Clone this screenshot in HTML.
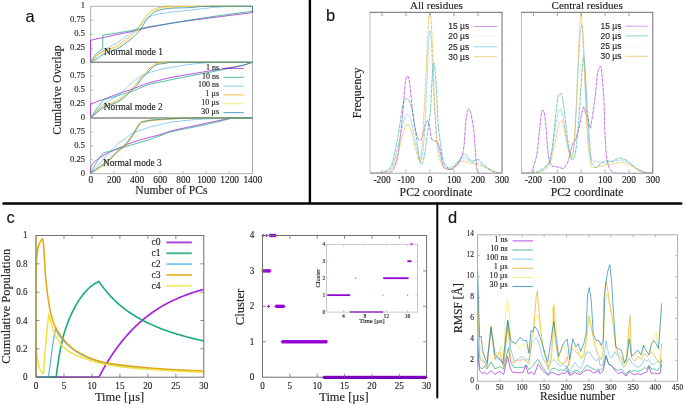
<!DOCTYPE html>
<html><head><meta charset="utf-8"><style>
html,body{margin:0;padding:0;background:#fff;width:685px;height:405px;overflow:hidden;}
svg{display:block;will-change:transform;}
</style></head><body>
<svg width="685" height="405" viewBox="0 0 685 405"><rect x="90.6" y="6.3" width="161.9" height="56" fill="none" stroke="#b0b0b0" stroke-width="1"/>
<line x1="90.6" y1="48.3" x2="92.8" y2="48.3" stroke="#999" stroke-width="0.8" />
<line x1="90.6" y1="34.3" x2="92.8" y2="34.3" stroke="#999" stroke-width="0.8" />
<line x1="90.6" y1="20.3" x2="92.8" y2="20.3" stroke="#999" stroke-width="0.8" />
<rect x="90.6" y="62.3" width="161.9" height="55.7" fill="none" stroke="#b0b0b0" stroke-width="1"/>
<line x1="90.6" y1="104.08" x2="92.8" y2="104.08" stroke="#999" stroke-width="0.8" />
<line x1="90.6" y1="90.15" x2="92.8" y2="90.15" stroke="#999" stroke-width="0.8" />
<line x1="90.6" y1="76.22" x2="92.8" y2="76.22" stroke="#999" stroke-width="0.8" />
<rect x="90.6" y="118" width="161.9" height="55.6" fill="none" stroke="#b0b0b0" stroke-width="1"/>
<line x1="90.6" y1="159.7" x2="92.8" y2="159.7" stroke="#999" stroke-width="0.8" />
<line x1="90.6" y1="145.8" x2="92.8" y2="145.8" stroke="#999" stroke-width="0.8" />
<line x1="90.6" y1="131.9" x2="92.8" y2="131.9" stroke="#999" stroke-width="0.8" />
<line x1="113.73" y1="173.6" x2="113.73" y2="171.1" stroke="#aaa" stroke-width="0.8" />
<line x1="136.86" y1="173.6" x2="136.86" y2="171.1" stroke="#aaa" stroke-width="0.8" />
<line x1="159.99" y1="173.6" x2="159.99" y2="171.1" stroke="#aaa" stroke-width="0.8" />
<line x1="183.11" y1="173.6" x2="183.11" y2="171.1" stroke="#aaa" stroke-width="0.8" />
<line x1="206.24" y1="173.6" x2="206.24" y2="171.1" stroke="#aaa" stroke-width="0.8" />
<line x1="229.37" y1="173.6" x2="229.37" y2="171.1" stroke="#aaa" stroke-width="0.8" />
<line x1="90.6" y1="62.3" x2="252.5" y2="62.3" stroke="#8a8a8a" stroke-width="1.2" />
<line x1="90.6" y1="118" x2="252.5" y2="118" stroke="#8a8a8a" stroke-width="1.2" />
<path d="M90.6,62.3 L90.6,40.29 L117.54,34.41 L132.35,31.39 L147.26,27.69 L172.01,23.1 L191.79,20.3 L212.02,17.67 L232.26,15.09 L252.38,12.63 L252.5,6.3" fill="none" stroke="#9400d3" stroke-width="0.85" stroke-linejoin="round" opacity="0.8"/>
<path d="M90.6,62.3 L95.34,54.46 L102.74,48.58 L102.86,35.08 L117.54,32.9 L131.07,30.66 L147.26,27.02 L172.01,23.1 L191.79,19.74 L212.02,16.66 L232.26,13.86 L252.38,11.34 L252.5,6.3" fill="none" stroke="#009e73" stroke-width="0.85" stroke-linejoin="round" opacity="0.8"/>
<path d="M90.6,62.3 L91.22,61.62 L92.08,60.66 L93.09,59.53 L94.2,58.34 L95.32,57.17 L96.38,56.14 L97.4,55.23 L98.42,54.36 L99.45,53.52 L100.52,52.7 L101.61,51.89 L102.74,51.1 L103.93,50.32 L105.17,49.55 L106.44,48.8 L107.73,48.07 L109.01,47.34 L110.26,46.62 L111.49,45.92 L112.7,45.26 L113.91,44.6 L115.12,43.94 L116.33,43.23 L117.54,42.48 L118.77,41.65 L120,40.76 L121.24,39.84 L122.47,38.91 L123.71,37.99 L124.95,37.1 L126.18,36.25 L127.41,35.43 L128.64,34.61 L129.87,33.79 L131.11,32.94 L132.35,32.06 L133.59,31.15 L134.85,30.25 L136.11,29.31 L137.36,28.34 L138.62,27.3 L139.86,26.18 L141.1,24.9 L142.34,23.45 L143.57,21.94 L144.8,20.47 L146.03,19.14 L147.26,18.06 L148.5,17.25 L149.73,16.64 L150.97,16.16 L152.2,15.78 L153.43,15.44 L154.67,15.09 L155.87,14.76 L157.04,14.48 L158.21,14.24 L159.41,14.03 L160.69,13.81 L162.07,13.58 L163.5,13.34 L164.94,13.11 L166.45,12.88 L168.09,12.64 L169.92,12.39 L172.01,12.12 L174.42,11.83 L177.11,11.52 L179.99,11.2 L182.98,10.88 L185.98,10.55 L188.9,10.22 L191.83,9.89 L194.86,9.54 L197.9,9.19 L200.87,8.85 L203.68,8.54 L206.24,8.26 L208.44,8.02 L210.31,7.81 L212.02,7.63 L213.74,7.46 L215.61,7.3 L217.81,7.14 L220.36,6.97 L223.16,6.81 L226.12,6.65 L229.16,6.51 L232.2,6.39 L235.15,6.3 L238.25,6.25 L241.58,6.24 L244.91,6.25 L248,6.27 L250.61,6.29 L252.5,6.3" fill="none" stroke="#56b4e9" stroke-width="0.85" stroke-linejoin="round" opacity="0.8"/>
<path d="M90.6,62.3 L91.11,61.64 L91.8,60.72 L92.63,59.63 L93.55,58.49 L94.5,57.38 L95.46,56.42 L96.42,55.59 L97.42,54.81 L98.47,54.07 L99.56,53.36 L100.67,52.69 L101.82,52.05 L103.01,51.45 L104.25,50.88 L105.52,50.35 L106.8,49.84 L108.08,49.35 L109.33,48.86 L110.56,48.41 L111.78,48.02 L112.98,47.64 L114.19,47.24 L115.4,46.76 L116.62,46.17 L117.85,45.46 L119.08,44.65 L120.31,43.77 L121.55,42.84 L122.79,41.9 L124.02,40.96 L125.25,40.05 L126.48,39.14 L127.71,38.21 L128.95,37.24 L130.18,36.21 L131.42,35.08 L132.7,33.84 L134.03,32.48 L135.37,31.06 L136.66,29.62 L137.87,28.2 L138.94,26.85 L139.87,25.53 L140.69,24.19 L141.42,22.87 L142.09,21.62 L142.72,20.47 L143.33,19.46 L143.9,18.64 L144.39,17.98 L144.84,17.43 L145.29,16.92 L145.77,16.38 L146.34,15.76 L146.97,15.04 L147.65,14.27 L148.36,13.47 L149.11,12.69 L149.9,11.95 L150.73,11.28 L151.61,10.69 L152.53,10.15 L153.5,9.64 L154.5,9.18 L155.54,8.76 L156.63,8.37 L157.78,8.03 L159,7.73 L160.26,7.47 L161.54,7.24 L162.8,7.04 L164.03,6.86 L165.12,6.71 L166.05,6.58 L166.97,6.49 L168.02,6.41 L169.35,6.35 L171.09,6.3 L173.33,6.27 L175.97,6.26 L178.89,6.26 L181.95,6.28 L185.02,6.29 L187.97,6.3 L190.49,6.3 L192.61,6.3 L194.75,6.3 L197.31,6.3 L200.69,6.3 L205.32,6.3 L212,6.3 L220.58,6.3 L229.99,6.3 L239.16,6.3 L247.02,6.3 L252.5,6.3" fill="none" stroke="#e69f00" stroke-width="0.85" stroke-linejoin="round" opacity="0.8"/>
<path d="M90.6,62.3 L91.25,61.74 L92.15,60.97 L93.21,60.05 L94.36,59.08 L95.52,58.12 L96.61,57.26 L97.64,56.48 L98.67,55.71 L99.7,54.96 L100.76,54.24 L101.84,53.54 L102.97,52.89 L104.16,52.29 L105.4,51.72 L106.67,51.19 L107.96,50.68 L109.24,50.19 L110.49,49.7 L111.72,49.25 L112.93,48.86 L114.14,48.48 L115.35,48.08 L116.56,47.6 L117.78,47.01 L119,46.3 L120.23,45.49 L121.47,44.61 L122.71,43.68 L123.94,42.74 L125.18,41.8 L126.41,40.89 L127.64,39.98 L128.87,39.05 L130.1,38.08 L131.34,37.05 L132.58,35.92 L133.86,34.68 L135.19,33.32 L136.52,31.9 L137.82,30.46 L139.02,29.04 L140.1,27.69 L141.02,26.37 L141.84,25.03 L142.57,23.71 L143.24,22.46 L143.87,21.31 L144.49,20.3 L145.05,19.48 L145.54,18.82 L145.99,18.27 L146.44,17.76 L146.93,17.22 L147.5,16.6 L148.13,15.88 L148.8,15.11 L149.51,14.31 L150.26,13.53 L151.06,12.79 L151.89,12.12 L152.77,11.53 L153.69,10.99 L154.65,10.48 L155.66,10.02 L156.7,9.6 L157.79,9.21 L158.94,8.87 L160.16,8.58 L161.42,8.32 L162.69,8.09 L163.96,7.89 L165.19,7.7 L166.27,7.53 L167.2,7.39 L168.12,7.27 L169.18,7.17 L170.5,7.07 L172.24,6.97 L174.48,6.87 L177.13,6.77 L180.04,6.68 L183.1,6.6 L186.17,6.53 L189.13,6.47 L191.66,6.42 L193.81,6.38 L195.98,6.35 L198.55,6.33 L201.92,6.31 L206.47,6.3 L213.02,6.29 L221.4,6.29 L230.57,6.29 L239.51,6.29 L247.16,6.3 L252.5,6.3" fill="none" stroke="#f0e442" stroke-width="0.85" stroke-linejoin="round" opacity="0.8"/>
<path d="M90.6,62.3 L91.36,61.88 L92.42,61.3 L93.67,60.61 L95.01,59.87 L96.34,59.1 L97.54,58.38 L98.62,57.66 L99.66,56.91 L100.68,56.15 L101.71,55.4 L102.78,54.68 L103.9,54.01 L105.09,53.41 L106.33,52.84 L107.6,52.31 L108.88,51.8 L110.16,51.31 L111.42,50.82 L112.64,50.37 L113.86,49.98 L115.07,49.6 L116.27,49.2 L117.48,48.72 L118.7,48.13 L119.93,47.42 L121.16,46.61 L122.39,45.73 L123.63,44.8 L124.87,43.86 L126.1,42.92 L127.33,42.01 L128.57,41.1 L129.8,40.17 L131.03,39.2 L132.26,38.17 L133.5,37.04 L134.79,35.8 L136.12,34.44 L137.45,33.02 L138.74,31.58 L139.95,30.16 L141.02,28.81 L141.95,27.49 L142.77,26.15 L143.5,24.83 L144.17,23.58 L144.8,22.43 L145.41,21.42 L145.98,20.6 L146.47,19.94 L146.92,19.39 L147.37,18.88 L147.86,18.34 L148.42,17.72 L149.06,17 L149.73,16.23 L150.44,15.44 L151.19,14.65 L151.98,13.91 L152.82,13.24 L153.69,12.65 L154.61,12.11 L155.58,11.6 L156.58,11.14 L157.63,10.72 L158.71,10.33 L159.86,9.99 L161.08,9.7 L162.34,9.44 L163.62,9.21 L164.88,9.01 L166.11,8.82 L167.2,8.65 L168.13,8.51 L169.05,8.39 L170.1,8.29 L171.43,8.19 L173.17,8.09 L175.41,8 L178.05,7.94 L180.97,7.88 L184.03,7.81 L187.1,7.71 L190.05,7.59 L192.6,7.4 L194.77,7.17 L196.96,6.91 L199.54,6.66 L202.9,6.45 L207.4,6.3 L213.83,6.23 L222.05,6.2 L231.03,6.22 L239.78,6.25 L247.27,6.29 L252.5,6.3" fill="none" stroke="#0072b2" stroke-width="0.85" stroke-linejoin="round" opacity="0.8"/>
<path d="M90.6,118 L90.56,116.41 L90.48,114.1 L90.4,111.42 L90.37,108.72 L90.42,106.34 L90.6,104.63 L90.84,103.71 L91.08,103.31 L91.42,103.24 L91.91,103.29 L92.66,103.27 L93.72,102.96 L95.2,102.38 L97.05,101.68 L99.14,100.91 L101.35,100.09 L103.55,99.28 L105.63,98.5 L107.57,97.77 L109.46,97.04 L111.34,96.31 L113.27,95.58 L115.28,94.82 L117.43,94.05 L119.74,93.25 L122.17,92.44 L124.7,91.61 L127.27,90.77 L129.83,89.91 L132.35,89.04 L134.84,88.11 L137.36,87.14 L139.88,86.15 L142.37,85.18 L144.8,84.27 L147.15,83.47 L149.41,82.77 L151.61,82.17 L153.75,81.62 L155.85,81.11 L157.92,80.62 L159.99,80.12 L161.9,79.64 L163.62,79.2 L165.32,78.77 L167.16,78.33 L169.29,77.86 L171.9,77.34 L175.06,76.75 L178.67,76.12 L182.59,75.46 L186.66,74.78 L190.74,74.1 L194.68,73.44 L198.51,72.79 L202.36,72.14 L206.22,71.49 L210.08,70.84 L213.95,70.19 L217.81,69.54 L221.8,68.88 L225.94,68.22 L230.09,67.56 L234.08,66.9 L237.75,66.26 L240.94,65.64 L243.67,65.01 L246.08,64.36 L248.16,63.73 L249.93,63.15 L251.38,62.66 L252.5,62.3" fill="none" stroke="#9400d3" stroke-width="0.85" stroke-linejoin="round" opacity="0.8"/>
<path d="M90.6,118 L91.23,117.01 L92.1,115.63 L93.13,114 L94.24,112.26 L95.35,110.58 L96.38,109.09 L97.39,107.73 L98.44,106.36 L99.49,105.05 L100.49,103.83 L101.4,102.74 L102.16,101.85 L102.63,101.2 L102.8,100.79 L102.87,100.52 L103.05,100.3 L103.52,100.03 L104.48,99.62 L106,99.07 L107.93,98.46 L110.17,97.81 L112.57,97.12 L115.03,96.42 L117.43,95.72 L119.8,95.03 L122.26,94.34 L124.77,93.63 L127.31,92.89 L129.84,92.11 L132.35,91.26 L134.84,90.3 L137.36,89.23 L139.88,88.11 L142.37,87.01 L144.8,86 L147.15,85.14 L149.41,84.44 L151.61,83.87 L153.75,83.38 L155.85,82.94 L157.92,82.52 L159.99,82.07 L161.9,81.65 L163.62,81.27 L165.32,80.91 L167.16,80.53 L169.29,80.09 L171.9,79.57 L175.06,78.94 L178.67,78.23 L182.59,77.46 L186.66,76.67 L190.74,75.88 L194.68,75.11 L198.51,74.37 L202.36,73.64 L206.22,72.9 L210.08,72.16 L213.95,71.41 L217.81,70.66 L221.8,69.87 L225.94,69.06 L230.09,68.24 L234.08,67.43 L237.75,66.65 L240.94,65.92 L243.67,65.21 L246.08,64.5 L248.16,63.81 L249.93,63.2 L251.38,62.68 L252.5,62.3" fill="none" stroke="#009e73" stroke-width="0.85" stroke-linejoin="round" opacity="0.8"/>
<path d="M90.6,118 L91.89,116.49 L93.65,114.37 L95.75,111.87 L98.06,109.25 L100.43,106.76 L102.74,104.63 L105.12,102.86 L107.7,101.25 L110.35,99.76 L112.94,98.36 L115.35,97.02 L117.43,95.72 L119.14,94.48 L120.59,93.33 L121.84,92.24 L122.98,91.18 L124.11,90.12 L125.29,89.04 L126.52,87.9 L127.71,86.75 L128.89,85.59 L130.04,84.46 L131.19,83.37 L132.35,82.35 L133.48,81.41 L134.6,80.52 L135.7,79.67 L136.82,78.87 L137.97,78.09 L139.17,77.34 L140.38,76.62 L141.56,75.96 L142.78,75.32 L144.09,74.7 L145.53,74.08 L147.15,73.44 L149.02,72.77 L151.1,72.08 L153.32,71.39 L155.6,70.72 L157.84,70.09 L159.99,69.54 L161.97,69.08 L163.84,68.7 L165.68,68.36 L167.58,68.04 L169.63,67.7 L171.9,67.31 L174.43,66.87 L177.17,66.38 L180.06,65.89 L183.02,65.39 L185.98,64.93 L188.9,64.53 L191.77,64.17 L194.65,63.85 L197.55,63.55 L200.45,63.29 L203.35,63.06 L206.24,62.86 L209,62.69 L211.6,62.57 L214.19,62.47 L216.95,62.4 L220.03,62.35 L223.59,62.3 L228.07,62.27 L233.44,62.26 L239.13,62.27 L244.58,62.28 L249.22,62.29 L252.5,62.3" fill="none" stroke="#56b4e9" stroke-width="0.85" stroke-linejoin="round" opacity="0.8"/>
<path d="M90.6,118 L91.82,116.73 L93.48,114.93 L95.46,112.81 L97.65,110.61 L99.92,108.56 L102.16,106.86 L104.51,105.54 L107.08,104.43 L109.74,103.45 L112.35,102.55 L114.76,101.66 L116.85,100.73 L118.59,99.76 L120.1,98.79 L121.41,97.84 L122.59,96.92 L123.67,96.02 L124.71,95.16 L125.65,94.38 L126.41,93.68 L127.09,93 L127.75,92.32 L128.47,91.57 L129.34,90.71 L130.4,89.7 L131.61,88.58 L132.88,87.4 L134.14,86.21 L135.3,85.07 L136.28,84.02 L137.03,83.1 L137.61,82.27 L138.09,81.48 L138.55,80.7 L139.08,79.89 L139.75,79.01 L140.58,78.05 L141.5,77.05 L142.49,76.02 L143.52,74.97 L144.54,73.92 L145.53,72.88 L146.5,71.83 L147.47,70.75 L148.44,69.66 L149.4,68.61 L150.36,67.63 L151.31,66.76 L152.22,65.98 L153.08,65.26 L153.93,64.62 L154.82,64.04 L155.78,63.55 L156.86,63.14 L158.05,62.83 L159.31,62.62 L160.65,62.49 L162.07,62.41 L163.58,62.36 L165.19,62.3 L166.19,62.25 L166.43,62.24 L166.76,62.25 L168.03,62.27 L171.07,62.29 L176.75,62.3 L186.54,62.3 L200.05,62.3 L215.35,62.3 L230.49,62.3 L243.52,62.3 L252.5,62.3" fill="none" stroke="#e69f00" stroke-width="0.85" stroke-linejoin="round" opacity="0.8"/>
<path d="M90.6,118 L91.93,116.8 L93.76,115.09 L95.93,113.09 L98.3,111.01 L100.74,109.05 L103.09,107.42 L105.49,106.13 L108.07,105.02 L110.72,104.04 L113.3,103.13 L115.7,102.23 L117.78,101.29 L119.52,100.32 L121.02,99.35 L122.34,98.4 L123.51,97.47 L124.6,96.58 L125.64,95.72 L126.57,94.94 L127.34,94.23 L128.01,93.56 L128.67,92.87 L129.4,92.12 L130.27,91.26 L131.33,90.26 L132.54,89.14 L133.81,87.96 L135.06,86.77 L136.22,85.62 L137.2,84.58 L137.96,83.66 L138.53,82.83 L139.01,82.04 L139.47,81.26 L140,80.45 L140.67,79.57 L141.5,78.61 L142.43,77.61 L143.42,76.57 L144.44,75.52 L145.47,74.47 L146.46,73.44 L147.42,72.39 L148.39,71.3 L149.36,70.22 L150.33,69.17 L151.29,68.19 L152.24,67.31 L153.14,66.54 L154,65.83 L154.85,65.19 L155.74,64.62 L156.71,64.12 L157.79,63.69 L158.98,63.35 L160.24,63.1 L161.58,62.93 L163,62.8 L164.51,62.69 L166.11,62.58 L167.12,62.48 L167.39,62.41 L167.74,62.37 L169.02,62.34 L172.05,62.32 L177.68,62.3 L187.35,62.28 L200.7,62.28 L215.81,62.28 L230.76,62.29 L243.63,62.3 L252.5,62.3" fill="none" stroke="#f0e442" stroke-width="0.85" stroke-linejoin="round" opacity="0.8"/>
<path d="M90.6,118 L91.89,116.9 L93.65,115.34 L95.75,113.51 L98.06,111.59 L100.43,109.78 L102.74,108.25 L105.12,107.02 L107.7,105.92 L110.35,104.93 L112.94,103.99 L115.35,103.07 L117.43,102.13 L119.17,101.15 L120.68,100.19 L121.99,99.24 L123.16,98.31 L124.25,97.41 L125.29,96.56 L126.22,95.77 L126.99,95.07 L127.66,94.4 L128.33,93.71 L129.05,92.96 L129.92,92.1 L130.98,91.1 L132.19,89.97 L133.46,88.79 L134.72,87.6 L135.87,86.46 L136.86,85.42 L137.61,84.5 L138.18,83.66 L138.66,82.87 L139.13,82.09 L139.65,81.28 L140.33,80.4 L141.16,79.45 L142.08,78.44 L143.07,77.41 L144.1,76.36 L145.12,75.31 L146.11,74.28 L147.07,73.23 L148.04,72.14 L149.01,71.06 L149.98,70.01 L150.94,69.02 L151.89,68.15 L152.8,67.37 L153.66,66.66 L154.51,66.02 L155.39,65.46 L156.36,64.96 L157.44,64.53 L158.63,64.2 L159.89,63.97 L161.23,63.81 L162.65,63.69 L164.16,63.57 L165.77,63.41 L166.77,63.22 L167.03,63 L167.37,62.79 L168.65,62.59 L171.69,62.42 L177.33,62.3 L187.05,62.24 L200.46,62.22 L215.64,62.23 L230.66,62.26 L243.59,62.29 L252.5,62.3" fill="none" stroke="#0072b2" stroke-width="0.85" stroke-linejoin="round" opacity="0.8"/>
<path d="M90.6,173.6 L90.64,172.63 L90.61,171.29 L90.62,169.71 L90.78,168 L91.2,166.29 L91.99,164.7 L93.19,163.2 L94.73,161.68 L96.53,160.15 L98.52,158.65 L100.61,157.19 L102.74,155.81 L104.96,154.49 L107.34,153.23 L109.83,152.02 L112.37,150.85 L114.92,149.7 L117.43,148.58 L119.9,147.48 L122.39,146.4 L124.88,145.35 L127.37,144.34 L129.86,143.37 L132.35,142.46 L134.84,141.61 L137.36,140.82 L139.88,140.07 L142.37,139.35 L144.8,138.67 L147.15,138.02 L149.41,137.4 L151.61,136.84 L153.75,136.31 L155.85,135.79 L157.92,135.26 L159.99,134.68 L161.9,134.08 L163.62,133.47 L165.32,132.84 L167.16,132.19 L169.29,131.51 L171.9,130.79 L175.06,130.02 L178.67,129.2 L182.59,128.36 L186.66,127.49 L190.74,126.63 L194.68,125.78 L198.6,124.92 L202.64,124.03 L206.68,123.14 L210.63,122.28 L214.38,121.49 L217.81,120.78 L220.82,120.16 L223.48,119.59 L225.93,119.08 L228.33,118.64 L230.81,118.28 L233.53,118 L236.73,117.84 L240.32,117.79 L244,117.83 L247.46,117.9 L250.4,117.97 L252.5,118" fill="none" stroke="#9400d3" stroke-width="0.85" stroke-linejoin="round" opacity="0.8"/>
<path d="M90.6,173.6 L91.22,172.36 L92.08,170.63 L93.09,168.6 L94.2,166.43 L95.32,164.33 L96.38,162.48 L97.4,160.79 L98.42,159.1 L99.46,157.48 L100.52,155.97 L101.62,154.65 L102.74,153.58 L103.92,152.83 L105.14,152.35 L106.39,152.05 L107.65,151.85 L108.9,151.65 L110.14,151.36 L111.28,151.02 L112.3,150.7 L113.32,150.39 L114.44,150.04 L115.77,149.64 L117.43,149.14 L119.48,148.52 L121.84,147.82 L124.42,147.05 L127.1,146.25 L129.78,145.46 L132.35,144.69 L134.84,143.95 L137.36,143.21 L139.88,142.46 L142.37,141.72 L144.8,140.98 L147.15,140.24 L149.41,139.5 L151.61,138.75 L153.75,138 L155.85,137.25 L157.92,136.52 L159.99,135.79 L161.9,135.09 L163.62,134.4 L165.32,133.72 L167.16,133.04 L169.29,132.35 L171.9,131.62 L175.06,130.87 L178.67,130.1 L182.59,129.31 L186.66,128.51 L190.74,127.71 L194.68,126.9 L198.59,126.07 L202.62,125.21 L206.65,124.34 L210.6,123.49 L214.35,122.66 L217.81,121.89 L220.88,121.13 L223.63,120.37 L226.19,119.63 L228.69,118.97 L231.25,118.41 L234,118 L237.16,117.77 L240.68,117.71 L244.26,117.76 L247.62,117.86 L250.46,117.95 L252.5,118" fill="none" stroke="#009e73" stroke-width="0.85" stroke-linejoin="round" opacity="0.8"/>
<path d="M90.6,173.6 L91.22,172.87 L92.08,171.87 L93.09,170.68 L94.2,169.4 L95.32,168.12 L96.38,166.93 L97.4,165.84 L98.42,164.79 L99.46,163.73 L100.52,162.64 L101.62,161.5 L102.74,160.26 L103.92,158.88 L105.14,157.39 L106.39,155.84 L107.65,154.28 L108.9,152.77 L110.14,151.36 L111.36,150.04 L112.56,148.77 L113.76,147.54 L114.96,146.36 L116.18,145.22 L117.43,144.13 L118.72,143.1 L120.04,142.13 L121.38,141.21 L122.71,140.32 L124.02,139.45 L125.29,138.57 L126.43,137.71 L127.42,136.88 L128.39,136.07 L129.45,135.26 L130.73,134.43 L132.35,133.57 L134.39,132.65 L136.78,131.67 L139.39,130.68 L142.07,129.72 L144.71,128.81 L147.15,128.01 L149.41,127.31 L151.61,126.7 L153.75,126.15 L155.85,125.64 L157.92,125.15 L159.99,124.67 L161.9,124.21 L163.62,123.78 L165.32,123.37 L167.16,122.97 L169.29,122.58 L171.9,122.17 L174.94,121.74 L178.29,121.31 L181.94,120.87 L185.89,120.44 L190.13,120.04 L194.68,119.67 L199.75,119.32 L205.4,118.99 L211.35,118.68 L217.32,118.4 L223.04,118.17 L228.22,118 L233.08,117.9 L237.89,117.88 L242.45,117.9 L246.55,117.94 L249.96,117.98 L252.5,118" fill="none" stroke="#56b4e9" stroke-width="0.85" stroke-linejoin="round" opacity="0.8"/>
<path d="M90.6,173.6 L91.29,173.18 L92.25,172.61 L93.38,171.93 L94.6,171.19 L95.83,170.43 L96.96,169.71 L98.01,169.02 L99.04,168.33 L100.07,167.62 L101.11,166.89 L102.19,166.1 L103.32,165.26 L104.51,164.35 L105.75,163.39 L107.03,162.38 L108.31,161.33 L109.59,160.25 L110.84,159.14 L112.05,157.99 L113.24,156.78 L114.43,155.53 L115.61,154.28 L116.8,153.07 L118.01,151.92 L119.23,150.88 L120.45,149.94 L121.69,149.03 L122.92,148.09 L124.17,147.03 L125.41,145.8 L126.66,144.38 L127.91,142.81 L129.17,141.14 L130.42,139.4 L131.68,137.6 L132.93,135.79 L134.19,133.83 L135.48,131.67 L136.77,129.47 L138.03,127.37 L139.22,125.53 L140.33,124.12 L141.29,123.19 L142.12,122.64 L142.89,122.36 L143.66,122.22 L144.52,122.11 L145.53,121.89 L146.59,121.61 L147.62,121.37 L148.72,121.14 L150.02,120.93 L151.62,120.72 L153.63,120.5 L156.1,120.27 L158.97,120.03 L162.13,119.79 L165.5,119.55 L168.98,119.33 L172.48,119.11 L175.65,118.9 L178.5,118.68 L181.47,118.47 L184.96,118.28 L189.42,118.12 L195.26,118 L203.47,117.94 L213.91,117.92 L225.3,117.93 L236.38,117.96 L245.87,117.99 L252.5,118" fill="none" stroke="#e69f00" stroke-width="0.85" stroke-linejoin="round" opacity="0.8"/>
<path d="M90.6,173.6 L91.18,173.05 L91.97,172.28 L92.92,171.38 L93.95,170.41 L95.01,169.46 L96.04,168.6 L97.03,167.84 L98.04,167.13 L99.09,166.44 L100.16,165.73 L101.26,164.98 L102.4,164.15 L103.59,163.24 L104.83,162.27 L106.1,161.26 L107.39,160.21 L108.67,159.13 L109.91,158.03 L111.12,156.88 L112.32,155.66 L113.5,154.42 L114.69,153.17 L115.88,151.96 L117.08,150.8 L118.3,149.77 L119.53,148.83 L120.76,147.92 L122,146.97 L123.24,145.92 L124.48,144.69 L125.73,143.26 L126.98,141.7 L128.24,140.03 L129.5,138.28 L130.75,136.49 L132,134.68 L133.27,132.72 L134.56,130.56 L135.85,128.36 L137.1,126.26 L138.3,124.42 L139.4,123 L140.36,122.08 L141.19,121.53 L141.96,121.25 L142.74,121.11 L143.6,120.99 L144.61,120.78 L145.66,120.5 L146.69,120.25 L147.8,120.03 L149.1,119.82 L150.7,119.61 L152.7,119.39 L155.17,119.14 L158.04,118.88 L161.21,118.61 L164.58,118.36 L168.06,118.15 L171.55,118 L174.71,117.92 L177.54,117.9 L180.48,117.91 L183.97,117.95 L188.44,117.98 L194.33,118 L202.65,118 L213.25,118 L224.84,118 L236.11,118 L245.76,118 L252.5,118" fill="none" stroke="#f0e442" stroke-width="0.85" stroke-linejoin="round" opacity="0.8"/>
<path d="M90.6,173.6 L91.22,173.12 L92.08,172.45 L93.09,171.65 L94.2,170.8 L95.32,169.94 L96.38,169.15 L97.4,168.43 L98.42,167.73 L99.45,167.03 L100.52,166.31 L101.61,165.54 L102.74,164.7 L103.93,163.79 L105.18,162.83 L106.45,161.82 L107.74,160.77 L109.01,159.69 L110.26,158.59 L111.47,157.43 L112.67,156.22 L113.85,154.97 L115.03,153.73 L116.22,152.51 L117.43,151.36 L118.65,150.32 L119.87,149.38 L121.11,148.48 L122.35,147.53 L123.59,146.48 L124.83,145.24 L126.08,143.82 L127.33,142.26 L128.59,140.59 L129.85,138.84 L131.1,137.05 L132.35,135.24 L133.61,133.28 L134.9,131.12 L136.19,128.91 L137.45,126.81 L138.64,124.98 L139.75,123.56 L140.71,122.63 L141.54,122.09 L142.31,121.81 L143.08,121.67 L143.94,121.55 L144.95,121.34 L146.01,121.06 L147.04,120.81 L148.15,120.59 L149.45,120.38 L151.04,120.17 L153.05,119.95 L155.52,119.7 L158.39,119.45 L161.55,119.2 L164.92,118.96 L168.4,118.74 L171.9,118.56 L175.06,118.41 L177.9,118.29 L180.85,118.19 L184.34,118.11 L188.81,118.05 L194.68,118 L202.96,117.97 L213.5,117.96 L225.01,117.97 L236.21,117.98 L245.8,117.99 L252.5,118" fill="none" stroke="#0072b2" stroke-width="0.85" stroke-linejoin="round" opacity="0.8"/>
<text x="85" y="8.3" font-family="Liberation Serif" font-size="9.2" text-anchor="end" fill="#222" stroke="#222" stroke-width="0.14" transform="translate(85 8.3) scale(0.93 1) translate(-85 -8.3)" >1</text>
<text x="85" y="22.3" font-family="Liberation Serif" font-size="9.2" text-anchor="end" fill="#222" stroke="#222" stroke-width="0.14" transform="translate(85 22.3) scale(0.93 1) translate(-85 -22.3)" >0.75</text>
<text x="85" y="36.3" font-family="Liberation Serif" font-size="9.2" text-anchor="end" fill="#222" stroke="#222" stroke-width="0.14" transform="translate(85 36.3) scale(0.93 1) translate(-85 -36.3)" >0.5</text>
<text x="85" y="50.3" font-family="Liberation Serif" font-size="9.2" text-anchor="end" fill="#222" stroke="#222" stroke-width="0.14" transform="translate(85 50.3) scale(0.93 1) translate(-85 -50.3)" >0.25</text>
<text x="85" y="64.3" font-family="Liberation Serif" font-size="9.2" text-anchor="end" fill="#222" stroke="#222" stroke-width="0.14" transform="translate(85 64.3) scale(0.93 1) translate(-85 -64.3)" >0</text>
<text x="85" y="78.22" font-family="Liberation Serif" font-size="9.2" text-anchor="end" fill="#222" stroke="#222" stroke-width="0.14" transform="translate(85 78.22) scale(0.93 1) translate(-85 -78.22)" >0.75</text>
<text x="85" y="92.15" font-family="Liberation Serif" font-size="9.2" text-anchor="end" fill="#222" stroke="#222" stroke-width="0.14" transform="translate(85 92.15) scale(0.93 1) translate(-85 -92.15)" >0.5</text>
<text x="85" y="106.08" font-family="Liberation Serif" font-size="9.2" text-anchor="end" fill="#222" stroke="#222" stroke-width="0.14" transform="translate(85 106.08) scale(0.93 1) translate(-85 -106.08)" >0.25</text>
<text x="85" y="120" font-family="Liberation Serif" font-size="9.2" text-anchor="end" fill="#222" stroke="#222" stroke-width="0.14" transform="translate(85 120) scale(0.93 1) translate(-85 -120)" >0</text>
<text x="85" y="133.9" font-family="Liberation Serif" font-size="9.2" text-anchor="end" fill="#222" stroke="#222" stroke-width="0.14" transform="translate(85 133.9) scale(0.93 1) translate(-85 -133.9)" >0.75</text>
<text x="85" y="147.8" font-family="Liberation Serif" font-size="9.2" text-anchor="end" fill="#222" stroke="#222" stroke-width="0.14" transform="translate(85 147.8) scale(0.93 1) translate(-85 -147.8)" >0.5</text>
<text x="85" y="161.7" font-family="Liberation Serif" font-size="9.2" text-anchor="end" fill="#222" stroke="#222" stroke-width="0.14" transform="translate(85 161.7) scale(0.93 1) translate(-85 -161.7)" >0.25</text>
<text x="85" y="175.6" font-family="Liberation Serif" font-size="9.2" text-anchor="end" fill="#222" stroke="#222" stroke-width="0.14" transform="translate(85 175.6) scale(0.93 1) translate(-85 -175.6)" >0</text>
<text x="90.9" y="183.1" font-family="Liberation Serif" font-size="9.8" text-anchor="middle" fill="#222" stroke="#222" stroke-width="0.14" transform="translate(90.9 183.1) scale(0.96 1) translate(-90.9 -183.1)" >0</text>
<text x="114.03" y="183.1" font-family="Liberation Serif" font-size="9.8" text-anchor="middle" fill="#222" stroke="#222" stroke-width="0.14" transform="translate(114.03 183.1) scale(0.96 1) translate(-114.03 -183.1)" >200</text>
<text x="137.16" y="183.1" font-family="Liberation Serif" font-size="9.8" text-anchor="middle" fill="#222" stroke="#222" stroke-width="0.14" transform="translate(137.16 183.1) scale(0.96 1) translate(-137.16 -183.1)" >400</text>
<text x="160.29" y="183.1" font-family="Liberation Serif" font-size="9.8" text-anchor="middle" fill="#222" stroke="#222" stroke-width="0.14" transform="translate(160.29 183.1) scale(0.96 1) translate(-160.29 -183.1)" >600</text>
<text x="183.41" y="183.1" font-family="Liberation Serif" font-size="9.8" text-anchor="middle" fill="#222" stroke="#222" stroke-width="0.14" transform="translate(183.41 183.1) scale(0.96 1) translate(-183.41 -183.1)" >800</text>
<text x="206.54" y="183.1" font-family="Liberation Serif" font-size="9.8" text-anchor="middle" fill="#222" stroke="#222" stroke-width="0.14" transform="translate(206.54 183.1) scale(0.96 1) translate(-206.54 -183.1)" >1000</text>
<text x="229.67" y="183.1" font-family="Liberation Serif" font-size="9.8" text-anchor="middle" fill="#222" stroke="#222" stroke-width="0.14" transform="translate(229.67 183.1) scale(0.96 1) translate(-229.67 -183.1)" >1200</text>
<text x="252.8" y="183.1" font-family="Liberation Serif" font-size="9.8" text-anchor="middle" fill="#222" stroke="#222" stroke-width="0.14" transform="translate(252.8 183.1) scale(0.96 1) translate(-252.8 -183.1)" >1400</text>
<text x="171.4" y="193.5" font-family="Liberation Serif" font-size="11.6" text-anchor="middle" fill="#222" stroke="#222" stroke-width="0.14" >Number of PCs</text>
<text x="61" y="90" font-family="Liberation Serif" font-size="11.7" text-anchor="middle" fill="#222" stroke="#222" stroke-width="0.14" transform="rotate(-90 61 90)" >Cumlative Overlap</text>
<text x="104" y="54.6" font-family="Liberation Serif" font-size="9.4" text-anchor="start" fill="#222" stroke="#222" stroke-width="0.14" >Normal mode 1</text>
<text x="103.8" y="110" font-family="Liberation Serif" font-size="9.4" text-anchor="start" fill="#222" stroke="#222" stroke-width="0.14" >Normal mode 2</text>
<text x="102.9" y="165.5" font-family="Liberation Serif" font-size="9.4" text-anchor="start" fill="#222" stroke="#222" stroke-width="0.14" >Normal mode 3</text>
<text x="219" y="69.8" font-family="Liberation Serif" font-size="8.4" text-anchor="end" fill="#222" stroke="#222" stroke-width="0.14" transform="translate(219 69.8) scale(0.95 1) translate(-219 -69.8)" >1 ns</text>
<line x1="223.4" y1="68.4" x2="243.7" y2="68.4" stroke="#9400d3" stroke-width="1" opacity="0.7"/>
<text x="219" y="78.65" font-family="Liberation Serif" font-size="8.4" text-anchor="end" fill="#222" stroke="#222" stroke-width="0.14" transform="translate(219 78.65) scale(0.95 1) translate(-219 -78.65)" >10 ns</text>
<line x1="223.4" y1="77.25" x2="243.7" y2="77.25" stroke="#009e73" stroke-width="1" opacity="0.7"/>
<text x="219" y="87.5" font-family="Liberation Serif" font-size="8.4" text-anchor="end" fill="#222" stroke="#222" stroke-width="0.14" transform="translate(219 87.5) scale(0.95 1) translate(-219 -87.5)" >100 ns</text>
<line x1="223.4" y1="86.1" x2="243.7" y2="86.1" stroke="#56b4e9" stroke-width="1" opacity="0.7"/>
<text x="219" y="96.35" font-family="Liberation Serif" font-size="8.4" text-anchor="end" fill="#222" stroke="#222" stroke-width="0.14" transform="translate(219 96.35) scale(0.95 1) translate(-219 -96.35)" >1 µs</text>
<line x1="223.4" y1="94.95" x2="243.7" y2="94.95" stroke="#e69f00" stroke-width="1" opacity="0.7"/>
<text x="219" y="105.2" font-family="Liberation Serif" font-size="8.4" text-anchor="end" fill="#222" stroke="#222" stroke-width="0.14" transform="translate(219 105.2) scale(0.95 1) translate(-219 -105.2)" >10 µs</text>
<line x1="223.4" y1="103.8" x2="243.7" y2="103.8" stroke="#f0e442" stroke-width="1" opacity="0.7"/>
<text x="219" y="114.05" font-family="Liberation Serif" font-size="8.4" text-anchor="end" fill="#222" stroke="#222" stroke-width="0.14" transform="translate(219 114.05) scale(0.95 1) translate(-219 -114.05)" >30 µs</text>
<line x1="223.4" y1="112.65" x2="243.7" y2="112.65" stroke="#0072b2" stroke-width="1" opacity="0.7"/>
<path d="M370,173.2 L372.89,173.23 L377.09,173.27 L381.5,173.28 L385,173.2 L387.25,173.24 L388.84,173.35 L390.14,173.09 L391.5,172 L392.99,170.06 L394.44,167.49 L395.79,164.17 L397,160 L398.04,154.66 L398.94,148.31 L399.74,141.55 L400.5,135 L401.21,128.73 L401.84,122.44 L402.43,116.18 L403,110 L403.54,103.6 L404.03,97.06 L404.51,90.99 L405,86 L405.49,82.16 L405.97,79.18 L406.46,77.13 L407,76.1 L407.58,75.92 L408.19,76.61 L408.83,78.52 L409.5,82 L410.23,87.95 L411,95.92 L411.77,104.23 L412.5,111.2 L413.13,116.39 L413.7,120.68 L414.3,124.44 L415,128 L415.87,131.65 L416.86,135.13 L417.86,138.02 L418.8,139.9 L419.65,140.59 L420.45,140.33 L421.23,139.34 L422,137.8 L422.78,135.38 L423.56,132.09 L424.3,128.71 L425,126 L425.63,123.99 L426.2,122.34 L426.75,121.21 L427.3,120.8 L427.86,121.19 L428.41,122.27 L428.96,123.92 L429.5,126 L430,128.91 L430.47,132.59 L430.99,136.17 L431.6,138.8 L432.37,140.1 L433.24,140.58 L434.15,140.71 L435,141 L435.79,141.35 L436.56,141.57 L437.29,142.01 L438,143 L438.66,144.63 L439.27,146.72 L439.87,149.21 L440.5,152 L441.14,155.5 L441.77,159.6 L442.44,163.5 L443.2,166.4 L444.07,167.93 L445.04,168.56 L446.03,168.77 L447,169 L447.92,169.37 L448.82,169.62 L449.74,169.72 L450.7,169.6 L451.74,169.23 L452.82,168.64 L453.92,167.88 L455,167 L456.05,166.13 L457.1,165.2 L458.15,163.97 L459.2,162.2 L460.32,159.97 L461.49,157.36 L462.58,154.12 L463.5,150 L464.17,144.32 L464.68,137.43 L465.09,130.57 L465.5,125 L465.91,121.12 L466.27,118.24 L466.62,115.99 L467,114 L467.4,112.12 L467.8,110.56 L468.23,109.49 L468.7,109.1 L469.22,109.32 L469.77,110.09 L470.36,111.59 L471,114 L471.72,117.46 L472.52,121.84 L473.3,126.92 L474,132.5 L474.59,139.14 L475.11,146.74 L475.58,154.1 L476,160 L476.31,164.05 L476.53,166.91 L476.78,169 L477.2,170.7 L477.43,171.96 L477.52,172.62 L478.26,172.94 L480.4,173.2 L485.01,173.38 L491.4,173.36 L497.69,173.26 L502,173.2" fill="none" stroke="#9400d3" stroke-width="0.9" stroke-linejoin="round" stroke-dasharray="4,0.8" opacity="0.6"/>
<path d="M370,173.2 L371.8,173.16 L374.38,173.13 L377.27,172.96 L380,172.5 L382.62,171.91 L385.31,171.21 L387.85,170.02 L390,168 L391.62,164.95 L392.88,161.09 L393.94,156.69 L395,152 L396.09,146.88 L397.12,141.25 L398.09,135.5 L399,130 L399.83,124.62 L400.59,119.25 L401.31,114.25 L402,110 L402.66,106.6 L403.27,103.84 L403.87,101.67 L404.5,100 L405.16,98.89 L405.83,98.34 L406.51,98.25 L407.2,98.5 L407.9,99.12 L408.61,100.14 L409.32,101.47 L410,103 L410.62,104.42 L411.21,105.89 L411.81,107.97 L412.5,111.2 L413.32,116.14 L414.22,122.36 L415.14,128.95 L416,135 L416.81,140.52 L417.59,145.91 L418.33,150.84 L419,155 L419.56,158.4 L420.03,161.17 L420.49,163.18 L421,164.3 L421.58,164.48 L422.2,163.79 L422.84,162.29 L423.5,160 L424.19,156.67 L424.92,152.36 L425.64,147.62 L426.3,143 L426.9,138.47 L427.45,133.8 L427.98,129.23 L428.5,125 L429.03,121.66 L429.54,118.93 L430.04,115.78 L430.5,111.2 L430.91,104.29 L431.28,95.8 L431.63,87.21 L432,80 L432.39,74.07 L432.77,68.8 L433.18,64.88 L433.6,63 L434.06,63.66 L434.56,66.38 L435.05,70.41 L435.5,75 L435.91,80.41 L436.31,86.89 L436.67,93.67 L437,100 L437.26,105.76 L437.47,111.32 L437.69,116.68 L438,121.8 L438.4,126.56 L438.86,131.01 L439.39,135.41 L440,140 L440.7,145.18 L441.49,150.7 L442.33,155.87 L443.2,160 L444.11,162.77 L445.07,164.59 L446.04,165.86 L447,167 L447.92,168.1 L448.82,168.96 L449.74,169.49 L450.7,169.6 L451.72,169.22 L452.77,168.4 L453.86,167.28 L455,166 L456.21,164.45 L457.49,162.61 L458.77,160.71 L460,159 L461.18,157.33 L462.34,155.64 L463.46,154.31 L464.5,153.7 L465.44,154.13 L466.29,155.32 L467.12,156.78 L468,158 L468.94,158.96 L469.91,159.89 L470.9,160.65 L471.9,161.1 L472.93,161.09 L473.99,160.74 L475.03,160.3 L476,160 L476.85,159.81 L477.61,159.62 L478.4,159.62 L479.3,160 L480.37,160.93 L481.55,162.28 L482.78,163.73 L484,165 L485.23,166.03 L486.49,166.96 L487.73,167.82 L488.9,168.6 L489.97,169.3 L490.98,169.91 L491.97,170.47 L493,171 L494.07,171.53 L495.17,172.03 L496.28,172.46 L497.4,172.8 L498.64,173.01 L499.97,173.11 L501.17,173.16 L502,173.2" fill="none" stroke="#009e73" stroke-width="0.9" stroke-linejoin="round" stroke-dasharray="4,0.8" opacity="0.6"/>
<path d="M370,173.2 L371.8,173.18 L374.38,173.18 L377.27,173.08 L380,172.8 L382.62,172.48 L385.31,172.13 L387.85,171.4 L390,170 L391.6,167.83 L392.81,165.07 L393.87,161.78 L395,158 L396.27,153.52 L397.56,148.38 L398.82,143.05 L400,138 L401.11,133.05 L402.16,128.06 L403.13,123.54 L404,120 L404.75,117.73 L405.39,116.41 L405.97,115.64 L406.5,115 L406.96,114.4 L407.33,114.04 L407.72,114.01 L408.2,114.4 L408.82,115.14 L409.52,116.23 L410.26,117.79 L411,120 L411.69,122.9 L412.38,126.41 L413.12,130.47 L414,135 L415.13,140.68 L416.45,147.31 L417.74,153.54 L418.8,158 L419.54,160.26 L420.08,161.06 L420.53,160.84 L421,160 L421.51,158.7 L422.01,156.69 L422.5,153.84 L423,150 L423.5,145.27 L424,139.69 L424.5,133.01 L425,125 L425.51,114.92 L426.03,103.12 L426.54,91.02 L427,80 L427.41,70.06 L427.78,60.57 L428.14,52.05 L428.5,45 L428.88,39.32 L429.25,34.83 L429.62,31.87 L430,30.8 L430.38,31.87 L430.75,34.82 L431.12,39.32 L431.5,45 L431.86,52.29 L432.22,61.2 L432.59,70.76 L433,80 L433.46,88.98 L433.97,98.12 L434.49,106.95 L435,115 L435.48,122.19 L435.94,128.75 L436.43,134.69 L437,140 L437.67,144.62 L438.43,148.56 L439.21,151.98 L440,155 L440.75,157.56 L441.49,159.62 L442.28,161.38 L443.2,163 L444.24,164.67 L445.36,166.25 L446.61,167.45 L448,168 L449.64,167.63 L451.49,166.56 L453.34,165.21 L455,164 L456.4,162.95 L457.66,161.88 L458.83,160.86 L460,160 L461.14,159.24 L462.22,158.56 L463.32,158.1 L464.5,158 L465.82,158.42 L467.22,159.25 L468.64,160.2 L470,161 L471.3,161.61 L472.57,162.17 L473.81,162.65 L475,163 L476.09,163.09 L477.11,162.99 L478.14,162.94 L479.3,163.2 L480.6,163.89 L481.98,164.86 L483.45,165.95 L485,167 L486.59,168.03 L488.23,169.1 L490.01,170.12 L492,171 L494.52,171.73 L497.44,172.35 L500.13,172.85 L502,173.2" fill="none" stroke="#56b4e9" stroke-width="0.9" stroke-linejoin="round" stroke-dasharray="4,0.8" opacity="0.6"/>
<path d="M370,173.2 L371.8,173.18 L374.38,173.17 L377.27,173.09 L380,172.9 L382.62,172.68 L385.31,172.43 L387.85,171.94 L390,171 L391.6,169.64 L392.81,167.94 L393.87,165.78 L395,163 L396.27,159.34 L397.56,154.94 L398.82,150.32 L400,146 L401.11,141.9 L402.16,137.81 L403.13,134.07 L404,131 L404.75,128.75 L405.39,127.12 L405.97,125.94 L406.5,125 L406.96,124.23 L407.33,123.75 L407.72,123.64 L408.2,124 L408.82,124.84 L409.52,126.12 L410.26,127.84 L411,130 L411.69,132.66 L412.38,135.81 L413.12,139.3 L414,143 L415.13,147.41 L416.45,152.44 L417.74,156.99 L418.8,160 L419.54,161.45 L420.08,161.81 L420.53,160.77 L421,158 L421.51,153.11 L422,146.38 L422.49,138.45 L423,130 L423.55,120.84 L424.11,110.75 L424.67,100.28 L425.2,90 L425.69,79.72 L426.14,69.25 L426.58,59.16 L427,50 L427.4,41.71 L427.77,34.06 L428.14,27.38 L428.5,22 L428.85,17.92 L429.19,15 L429.54,13.33 L429.9,13 L430.29,13.98 L430.69,16.25 L431.1,19.89 L431.5,25 L431.87,31.78 L432.23,40.12 L432.59,49.66 L433,60 L433.46,71.8 L433.97,85 L434.49,98.2 L435,110 L435.48,120.27 L435.94,129.69 L436.43,138.01 L437,145 L437.67,150.37 L438.43,154.31 L439.21,157.35 L440,160 L440.75,162.2 L441.49,163.75 L442.28,164.92 L443.2,166 L444.24,167.1 L445.36,168.06 L446.61,168.74 L448,169 L449.64,168.7 L451.49,167.94 L453.34,166.96 L455,166 L456.4,165 L457.66,163.88 L458.83,162.81 L460,162 L461.14,161.47 L462.22,161.12 L463.32,160.97 L464.5,161 L465.82,161.31 L467.22,161.88 L468.64,162.5 L470,163 L471.28,163.31 L472.51,163.54 L473.73,163.75 L475,164 L476.32,164.29 L477.66,164.6 L479.03,164.96 L480.4,165.4 L481.75,165.94 L483.1,166.57 L484.5,167.26 L486,168 L487.6,168.85 L489.29,169.81 L491.08,170.73 L493,171.5 L495.32,172.09 L497.94,172.57 L500.34,172.94 L502,173.2" fill="none" stroke="#e69f00" stroke-width="0.9" stroke-linejoin="round" stroke-dasharray="4,0.8" opacity="0.6"/>
<line x1="370" y1="12.3" x2="370" y2="173.2" stroke="#bdbdbd" stroke-width="1.0" />
<line x1="370" y1="173.2" x2="502" y2="173.2" stroke="#a8a8a8" stroke-width="1.0" />
<line x1="369.6" y1="12.3" x2="502.4" y2="12.3" stroke="#6a6a6a" stroke-width="1.0" />
<line x1="502" y1="12.3" x2="502" y2="173.2" stroke="#6f6f6f" stroke-width="1.0" />
<line x1="382" y1="173.2" x2="382" y2="169.4" stroke="#aaa" stroke-width="0.8" />
<line x1="382" y1="12.3" x2="382" y2="16.1" stroke="#888" stroke-width="0.8" />
<line x1="406" y1="173.2" x2="406" y2="169.4" stroke="#aaa" stroke-width="0.8" />
<line x1="406" y1="12.3" x2="406" y2="16.1" stroke="#888" stroke-width="0.8" />
<line x1="430" y1="173.2" x2="430" y2="169.4" stroke="#aaa" stroke-width="0.8" />
<line x1="430" y1="12.3" x2="430" y2="16.1" stroke="#888" stroke-width="0.8" />
<line x1="454" y1="173.2" x2="454" y2="169.4" stroke="#aaa" stroke-width="0.8" />
<line x1="454" y1="12.3" x2="454" y2="16.1" stroke="#888" stroke-width="0.8" />
<line x1="478" y1="173.2" x2="478" y2="169.4" stroke="#aaa" stroke-width="0.8" />
<line x1="478" y1="12.3" x2="478" y2="16.1" stroke="#888" stroke-width="0.8" />
<text x="382" y="182.8" font-family="Liberation Serif" font-size="9.4" text-anchor="middle" fill="#222" stroke="#222" stroke-width="0.14" >-200</text>
<text x="406" y="182.8" font-family="Liberation Serif" font-size="9.4" text-anchor="middle" fill="#222" stroke="#222" stroke-width="0.14" >-100</text>
<text x="430" y="182.8" font-family="Liberation Serif" font-size="9.4" text-anchor="middle" fill="#222" stroke="#222" stroke-width="0.14" >0</text>
<text x="454" y="182.8" font-family="Liberation Serif" font-size="9.4" text-anchor="middle" fill="#222" stroke="#222" stroke-width="0.14" >100</text>
<text x="478" y="182.8" font-family="Liberation Serif" font-size="9.4" text-anchor="middle" fill="#222" stroke="#222" stroke-width="0.14" >200</text>
<text x="502" y="182.8" font-family="Liberation Serif" font-size="9.4" text-anchor="middle" fill="#222" stroke="#222" stroke-width="0.14" >300</text>
<text x="436.4" y="9.4" font-family="Liberation Serif" font-size="11.0" text-anchor="middle" fill="#222" stroke="#222" stroke-width="0.14" >All residues</text>
<text x="436" y="195.9" font-family="Liberation Serif" font-size="11.75" text-anchor="middle" fill="#222" stroke="#222" stroke-width="0.14" >PC2 coordinate</text>
<text x="469.2" y="29.4" font-family="Liberation Sans" font-size="8.5" text-anchor="end" fill="#222" stroke="#222" stroke-width="0.11200000000000002" >15 µs</text>
<line x1="473.8" y1="26.5" x2="497" y2="26.5" stroke="#9400d3" stroke-width="1.1" opacity="0.4"/>
<text x="469.2" y="39.4" font-family="Liberation Sans" font-size="8.5" text-anchor="end" fill="#222" stroke="#222" stroke-width="0.11200000000000002" >20 µs</text>
<line x1="473.8" y1="36.5" x2="497" y2="36.5" stroke="#009e73" stroke-width="1.1" opacity="0.07"/>
<text x="469.2" y="49.7" font-family="Liberation Sans" font-size="8.5" text-anchor="end" fill="#222" stroke="#222" stroke-width="0.11200000000000002" >25 µs</text>
<line x1="473.8" y1="46.8" x2="497" y2="46.8" stroke="#56b4e9" stroke-width="1.1" opacity="0.55"/>
<text x="469.2" y="59.5" font-family="Liberation Sans" font-size="8.5" text-anchor="end" fill="#222" stroke="#222" stroke-width="0.11200000000000002" >30 µs</text>
<line x1="473.8" y1="56.6" x2="497" y2="56.6" stroke="#e69f00" stroke-width="1.1" opacity="0.4"/>
<path d="M521.5,173.2 L523.19,173.23 L525.64,173.27 L528.15,173.28 L530,173.2 L530.89,173.12 L531.24,173.04 L531.39,172.74 L531.7,172 L532.22,170.76 L532.77,169.13 L533.36,167.19 L534,165 L534.72,162.65 L535.52,160.08 L536.3,157.15 L537,153.7 L537.59,149.36 L538.11,144.33 L538.58,139.31 L539,135 L539.35,131.71 L539.64,129.02 L539.91,126.57 L540.2,124 L540.52,121.06 L540.84,117.99 L541.17,115.17 L541.5,113 L541.85,111.59 L542.2,110.74 L542.55,110.31 L542.9,110.2 L543.23,110.37 L543.56,110.88 L543.88,111.75 L544.2,113 L544.52,114.56 L544.84,116.44 L545.16,118.8 L545.5,121.8 L545.86,125.69 L546.23,130.33 L546.61,135.24 L547,140 L547.38,144.76 L547.75,149.68 L548.17,154.25 L548.7,158 L549.37,160.75 L550.16,162.76 L550.99,164.25 L551.8,165.4 L552.57,166.1 L553.33,166.29 L554.12,166.29 L555,166.4 L556,166.67 L557.09,166.94 L558.21,167.22 L559.3,167.5 L560.41,167.86 L561.54,168.28 L562.61,168.59 L563.5,168.6 L564.15,168.24 L564.62,167.61 L565.03,166.82 L565.5,166 L566.04,165.28 L566.61,164.58 L567.19,163.63 L567.8,162.2 L568.45,160.07 L569.13,157.42 L569.82,154.61 L570.5,152 L571.16,149.55 L571.81,147.11 L572.46,144.89 L573.1,143.1 L573.75,141.99 L574.39,141.37 L575.02,140.83 L575.6,139.9 L576.12,138.44 L576.59,136.68 L577.04,134.81 L577.5,133 L577.97,131.37 L578.44,129.81 L578.91,128.12 L579.4,126.1 L579.91,123.55 L580.43,120.62 L580.96,117.66 L581.5,115 L582.05,112.44 L582.6,109.91 L583.15,107.91 L583.7,107 L584.23,107.64 L584.76,109.44 L585.28,111.62 L585.8,113.4 L586.32,114.45 L586.84,115.24 L587.37,116.15 L587.9,117.6 L588.45,120.24 L589.02,123.67 L589.58,126.72 L590.1,128.2 L590.57,127.49 L591,125.31 L591.41,122.53 L591.8,120 L592.15,118.03 L592.47,116.15 L592.8,113.99 L593.2,111.2 L593.71,107.51 L594.29,103.16 L594.87,98.59 L595.4,94.2 L595.86,89.87 L596.27,85.46 L596.66,81.36 L597,78 L597.29,75.58 L597.52,73.84 L597.74,72.51 L598,71.3 L598.3,70.2 L598.63,69.34 L598.97,68.63 L599.3,68 L599.62,67.22 L599.94,66.4 L600.27,65.96 L600.6,66.3 L600.93,67.35 L601.26,68.94 L601.61,71.39 L602,75 L602.46,80.06 L602.98,86.35 L603.48,93.36 L603.9,100.6 L604.19,108.24 L604.39,116.43 L604.59,124.69 L604.9,132.5 L605.3,140.08 L605.74,147.57 L606.29,154.41 L607,160 L607.87,164.05 L608.88,166.91 L610.03,169 L611.3,170.7 L612.08,171.96 L612.57,172.62 L614.03,172.94 L617.7,173.2 L625.28,173.38 L635.65,173.36 L645.82,173.26 L652.8,173.2" fill="none" stroke="#9400d3" stroke-width="0.9" stroke-linejoin="round" stroke-dasharray="4,0.8" opacity="0.6"/>
<path d="M521.5,173.2 L524.1,173.13 L527.86,173.03 L531.82,172.85 L535,172.5 L537.1,171.95 L538.64,171.23 L539.92,170.43 L541.2,169.6 L542.52,168.75 L543.76,167.86 L544.91,166.93 L546,166 L547.04,165.26 L548.01,164.64 L548.9,163.75 L549.7,162.2 L550.38,159.86 L550.96,156.96 L551.48,153.62 L552,150 L552.52,146.07 L553.02,141.77 L553.51,137.21 L554,132.5 L554.5,127.47 L554.99,122.13 L555.49,116.85 L556,112 L556.51,107.44 L557.02,103.06 L557.58,99.24 L558.2,96.4 L558.96,94.61 L559.81,93.66 L560.65,93.53 L561.4,94.2 L562,95.82 L562.52,98.34 L563.01,101.47 L563.5,104.9 L564,108.68 L564.49,112.93 L564.98,117.44 L565.5,122 L566.06,126.78 L566.64,131.82 L567.22,136.7 L567.8,141 L568.36,144.61 L568.92,147.75 L569.47,150.52 L570,153 L570.49,155.41 L570.94,157.64 L571.42,159.3 L572,160 L572.74,159.65 L573.58,158.46 L574.44,156.46 L575.2,153.7 L575.85,150.02 L576.43,145.44 L576.97,140.32 L577.5,135 L578.01,129.46 L578.49,123.57 L578.96,117.44 L579.4,111.2 L579.82,104.67 L580.22,97.86 L580.61,91.17 L581,85 L581.39,79.27 L581.78,73.84 L582.16,68.98 L582.5,65 L582.8,61.8 L583.06,59.29 L583.31,57.73 L583.6,57.4 L583.93,58.39 L584.28,60.54 L584.64,63.77 L585,68 L585.37,73.7 L585.75,80.75 L586.13,88.17 L586.5,95 L586.85,100.96 L587.19,106.59 L587.54,112.07 L587.9,117.6 L588.29,123.27 L588.69,128.96 L589.1,134.57 L589.5,140 L589.88,145.52 L590.25,151.09 L590.64,156.11 L591.1,160 L591.63,162.36 L592.22,163.59 L592.85,164.28 L593.5,165 L594.17,165.94 L594.88,166.78 L595.61,167.36 L596.4,167.5 L597.22,167.03 L598.08,166.09 L598.99,164.97 L600,164 L601.15,163.17 L602.42,162.34 L603.7,161.61 L604.9,161.1 L605.97,160.87 L606.98,160.86 L607.97,160.95 L609,161 L610.11,161.06 L611.26,161.17 L612.38,161.22 L613.4,161.1 L614.26,160.71 L615.02,160.12 L615.74,159.51 L616.5,159 L617.31,158.6 L618.14,158.25 L618.98,158 L619.8,157.9 L620.61,158.02 L621.41,158.32 L622.2,158.68 L623,159 L623.79,159.2 L624.56,159.35 L625.36,159.58 L626.2,160 L627.09,160.69 L628.01,161.56 L628.98,162.53 L630,163.5 L631.07,164.49 L632.2,165.53 L633.38,166.56 L634.6,167.5 L635.9,168.34 L637.26,169.11 L638.64,169.82 L640,170.5 L641.28,171.17 L642.52,171.81 L643.82,172.38 L645.3,172.8 L647.2,173.04 L649.38,173.14 L651.4,173.17 L652.8,173.2" fill="none" stroke="#009e73" stroke-width="0.9" stroke-linejoin="round" stroke-dasharray="4,0.8" opacity="0.6"/>
<path d="M521.5,173.2 L524.1,173.16 L527.88,173.11 L531.84,173.01 L535,172.8 L537.03,172.52 L538.47,172.19 L539.68,171.71 L541,171 L542.55,170.12 L544.12,169.07 L545.64,167.75 L547,166 L548.16,163.81 L549.19,161.25 L550.12,158.31 L551,155 L551.82,151.24 L552.56,147.06 L553.27,142.6 L554,138 L554.74,132.95 L555.48,127.49 L556.23,122.29 L557,118 L557.82,114.6 L558.67,111.81 L559.51,109.88 L560.3,109.1 L561.01,109.66 L561.67,111.37 L562.32,113.92 L563,117 L563.74,120.91 L564.51,125.68 L565.28,130.61 L566,135 L566.66,138.72 L567.28,142.14 L567.89,145.23 L568.5,148 L569.12,150.63 L569.75,153.07 L570.38,154.93 L571,155.8 L571.64,155.76 L572.28,154.95 L572.91,153.12 L573.5,150 L574.04,145.45 L574.53,139.64 L575.01,132.75 L575.5,125 L576,116.05 L576.5,105.94 L577,95.35 L577.5,85 L578,74.54 L578.49,63.76 L578.99,53.61 L579.5,45 L580.05,37.68 L580.61,31.33 L581.17,26.76 L581.7,24.8 L582.17,25.87 L582.61,29.45 L583.05,35.01 L583.5,42 L583.99,51.01 L584.49,62.08 L585,73.86 L585.5,85 L585.99,95.48 L586.46,105.89 L586.96,115.86 L587.5,125 L588.08,133.47 L588.68,141.39 L589.34,148.29 L590.1,153.7 L590.93,157.18 L591.84,159.08 L592.85,160.12 L594,161 L595.33,161.69 L596.81,161.88 L598.38,161.88 L600,162 L601.68,162.37 L603.44,162.8 L605.23,163.13 L607,163.2 L608.73,162.86 L610.44,162.24 L612.19,161.55 L614,161 L615.95,160.6 L618.01,160.24 L620.03,160.01 L621.9,160 L623.58,160.27 L625.13,160.75 L626.59,161.36 L628,162 L629.31,162.64 L630.51,163.34 L631.71,164.11 L633,165 L634.41,166.09 L635.88,167.34 L637.39,168.57 L638.9,169.6 L640.37,170.38 L641.83,171.01 L643.35,171.54 L645,172 L647.01,172.41 L649.28,172.75 L651.36,173.01 L652.8,173.2" fill="none" stroke="#56b4e9" stroke-width="0.9" stroke-linejoin="round" stroke-dasharray="4,0.8" opacity="0.6"/>
<path d="M521.5,173.2 L524.1,173.16 L527.88,173.11 L531.84,173.02 L535,172.9 L537.03,172.79 L538.47,172.68 L539.68,172.46 L541,172 L542.55,171.31 L544.12,170.44 L545.64,169.35 L547,168 L548.14,166.49 L549.12,164.81 L550.05,162.73 L551,160 L552.02,156.36 L553.06,152 L554.07,147.39 L555,143 L555.81,138.7 L556.54,134.33 L557.25,130.29 L558,127 L558.84,124.45 L559.72,122.45 L560.6,121.18 L561.4,120.8 L562.1,121.43 L562.72,122.95 L563.34,125.2 L564,128 L564.7,131.65 L565.41,136.14 L566.17,140.8 L567,145 L567.96,149.02 L569.03,153.06 L570.08,156.32 L571,158 L571.74,157.99 L572.38,156.69 L572.95,154.04 L573.5,150 L574.04,144.4 L574.53,137.31 L575.01,129.07 L575.5,120 L576,109.69 L576.51,98.12 L577.01,86.25 L577.5,75 L577.97,64.23 L578.43,53.56 L578.87,43.62 L579.3,35 L579.71,27.32 L580.11,20.44 L580.5,15.34 L580.9,13 L581.29,13.85 L581.68,17.31 L582.07,22.87 L582.5,30 L582.97,39.28 L583.48,50.75 L583.99,63.09 L584.5,75 L585,86.6 L585.5,98.44 L586,109.8 L586.5,120 L587,128.95 L587.5,137 L588,144.05 L588.5,150 L589.01,154.64 L589.52,158.09 L590.02,160.75 L590.5,163 L590.85,164.84 L591.11,166.09 L591.49,166.93 L592.2,167.5 L593.38,167.75 L594.89,167.62 L596.51,167.31 L598,167 L599.28,166.69 L600.48,166.29 L601.68,165.88 L603,165.5 L604.47,165.17 L606.05,164.86 L607.65,164.56 L609.2,164.3 L610.65,164.08 L612.06,163.91 L613.48,163.73 L615,163.5 L616.67,163.14 L618.43,162.69 L620.21,162.32 L621.9,162.2 L623.48,162.4 L625.01,162.83 L626.5,163.39 L628,164 L629.48,164.63 L630.94,165.32 L632.43,166.1 L634,167 L635.57,168.13 L637.14,169.44 L638.89,170.71 L641,171.7 L643.89,172.34 L647.34,172.74 L650.57,173.01 L652.8,173.2" fill="none" stroke="#e69f00" stroke-width="0.9" stroke-linejoin="round" stroke-dasharray="4,0.8" opacity="0.6"/>
<line x1="521.5" y1="12.3" x2="521.5" y2="173.2" stroke="#bdbdbd" stroke-width="1.0" />
<line x1="521.5" y1="173.2" x2="652.8" y2="173.2" stroke="#a8a8a8" stroke-width="1.0" />
<line x1="521.1" y1="12.3" x2="653.2" y2="12.3" stroke="#6a6a6a" stroke-width="1.0" />
<line x1="652.8" y1="12.3" x2="652.8" y2="173.2" stroke="#6f6f6f" stroke-width="1.0" />
<line x1="533.46" y1="173.2" x2="533.46" y2="169.4" stroke="#aaa" stroke-width="0.8" />
<line x1="533.46" y1="12.3" x2="533.46" y2="16.1" stroke="#888" stroke-width="0.8" />
<line x1="557.33" y1="173.2" x2="557.33" y2="169.4" stroke="#aaa" stroke-width="0.8" />
<line x1="557.33" y1="12.3" x2="557.33" y2="16.1" stroke="#888" stroke-width="0.8" />
<line x1="581.2" y1="173.2" x2="581.2" y2="169.4" stroke="#aaa" stroke-width="0.8" />
<line x1="581.2" y1="12.3" x2="581.2" y2="16.1" stroke="#888" stroke-width="0.8" />
<line x1="605.07" y1="173.2" x2="605.07" y2="169.4" stroke="#aaa" stroke-width="0.8" />
<line x1="605.07" y1="12.3" x2="605.07" y2="16.1" stroke="#888" stroke-width="0.8" />
<line x1="628.94" y1="173.2" x2="628.94" y2="169.4" stroke="#aaa" stroke-width="0.8" />
<line x1="628.94" y1="12.3" x2="628.94" y2="16.1" stroke="#888" stroke-width="0.8" />
<text x="533.46" y="182.8" font-family="Liberation Serif" font-size="9.4" text-anchor="middle" fill="#222" stroke="#222" stroke-width="0.14" >-200</text>
<text x="557.33" y="182.8" font-family="Liberation Serif" font-size="9.4" text-anchor="middle" fill="#222" stroke="#222" stroke-width="0.14" >-100</text>
<text x="581.2" y="182.8" font-family="Liberation Serif" font-size="9.4" text-anchor="middle" fill="#222" stroke="#222" stroke-width="0.14" >0</text>
<text x="605.07" y="182.8" font-family="Liberation Serif" font-size="9.4" text-anchor="middle" fill="#222" stroke="#222" stroke-width="0.14" >100</text>
<text x="628.94" y="182.8" font-family="Liberation Serif" font-size="9.4" text-anchor="middle" fill="#222" stroke="#222" stroke-width="0.14" >200</text>
<text x="652.81" y="182.8" font-family="Liberation Serif" font-size="9.4" text-anchor="middle" fill="#222" stroke="#222" stroke-width="0.14" >300</text>
<text x="587.2" y="9.4" font-family="Liberation Serif" font-size="11.0" text-anchor="middle" fill="#222" stroke="#222" stroke-width="0.14" >Central residues</text>
<text x="587.15" y="195.9" font-family="Liberation Serif" font-size="11.75" text-anchor="middle" fill="#222" stroke="#222" stroke-width="0.14" >PC2 coordinate</text>
<text x="621.4" y="29.1" font-family="Liberation Sans" font-size="8.5" text-anchor="end" fill="#222" stroke="#222" stroke-width="0.11200000000000002" >15 µs</text>
<line x1="625.2" y1="26.2" x2="648.3" y2="26.2" stroke="#9400d3" stroke-width="1.1" opacity="0.35"/>
<text x="621.4" y="38.8" font-family="Liberation Sans" font-size="8.5" text-anchor="end" fill="#222" stroke="#222" stroke-width="0.11200000000000002" >20 µs</text>
<line x1="625.2" y1="35.9" x2="648.3" y2="35.9" stroke="#009e73" stroke-width="1.1" opacity="0.4"/>
<text x="621.4" y="49.4" font-family="Liberation Sans" font-size="8.5" text-anchor="end" fill="#222" stroke="#222" stroke-width="0.11200000000000002" >25 µs</text>
<line x1="625.2" y1="46.5" x2="648.3" y2="46.5" stroke="#56b4e9" stroke-width="1.1" opacity="0.08"/>
<text x="621.4" y="59.2" font-family="Liberation Sans" font-size="8.5" text-anchor="end" fill="#222" stroke="#222" stroke-width="0.11200000000000002" >30 µs</text>
<line x1="625.2" y1="56.3" x2="648.3" y2="56.3" stroke="#e69f00" stroke-width="1.1" opacity="0.45"/>
<text x="360.8" y="92.8" font-family="Liberation Serif" font-size="12.0" text-anchor="middle" fill="#222" stroke="#222" stroke-width="0.14" transform="rotate(-90 360.8 92.8)" >Frequency</text>
<path d="M36,377.2 L98.93,377.2 L100.32,374.55 L101.72,371.97 L103.12,369.46 L104.52,367.01 L105.92,364.62 L107.31,362.3 L108.71,360.04 L110.11,357.83 L111.51,355.68 L112.91,353.59 L114.31,351.56 L115.71,349.57 L117.1,347.64 L118.5,345.76 L119.9,343.93 L121.3,342.14 L122.7,340.4 L124.09,338.71 L125.49,337.06 L126.89,335.45 L128.29,333.88 L129.69,332.36 L131.09,330.87 L132.49,329.43 L133.88,328.02 L135.28,326.65 L136.68,325.31 L138.08,324.01 L139.48,322.74 L140.88,321.5 L142.27,320.3 L143.67,319.13 L145.07,317.99 L146.47,316.87 L147.87,315.79 L149.27,314.74 L150.66,313.71 L152.06,312.71 L153.46,311.73 L154.86,310.78 L156.26,309.86 L157.66,308.96 L159.05,308.08 L160.45,307.23 L161.85,306.39 L163.25,305.58 L164.65,304.79 L166.05,304.02 L167.44,303.28 L168.84,302.55 L170.24,301.83 L171.64,301.14 L173.04,300.47 L174.44,299.81 L175.83,299.17 L177.23,298.55 L178.63,297.94 L180.03,297.35 L181.43,296.77 L182.83,296.21 L184.22,295.67 L185.62,295.13 L187.02,294.62 L188.42,294.11 L189.82,293.62 L191.22,293.14 L192.61,292.67 L194.01,292.22 L195.41,291.78 L196.81,291.35 L198.21,290.93 L199.61,290.52 L201,290.12 L202.4,289.73 L203.8,289.35" fill="none" stroke="#9400d3" stroke-width="1.7" stroke-linejoin="round" opacity="0.85"/>
<path d="M36,377.2 L56.14,377.2 L56.14,377.2 L56.31,375.93 L56.53,374.22 L56.8,372.19 L57.1,369.94 L57.42,367.58 L57.74,365.21 L58.06,362.95 L58.37,360.9 L58.66,359.05 L58.94,357.26 L59.23,355.53 L59.51,353.82 L59.82,352.11 L60.14,350.38 L60.5,348.59 L60.89,346.73 L61.31,344.8 L61.75,342.83 L62.21,340.81 L62.7,338.76 L63.22,336.7 L63.78,334.61 L64.38,332.52 L65.03,330.44 L65.73,328.33 L66.48,326.18 L67.27,324.01 L68.1,321.83 L68.96,319.67 L69.85,317.53 L70.76,315.45 L71.69,313.44 L72.64,311.46 L73.63,309.5 L74.66,307.57 L75.71,305.69 L76.76,303.85 L77.82,302.09 L78.87,300.42 L79.91,298.84 L80.94,297.35 L82,295.94 L83.07,294.6 L84.13,293.33 L85.17,292.14 L86.17,291.04 L87.13,290.01 L88.02,289.06 L88.84,288.22 L89.6,287.5 L90.31,286.86 L90.99,286.3 L91.64,285.79 L92.29,285.32 L92.94,284.85 L93.61,284.39 L94.33,283.91 L95.08,283.45 L95.86,283.02 L96.62,282.61 L97.33,282.23 L97.98,281.91 L98.52,281.63 L98.93,281.41 L100.32,283.46 L101.72,285.43 L103.12,287.31 L104.52,289.12 L105.92,290.85 L107.31,292.52 L108.71,294.13 L110.11,295.68 L111.51,297.17 L112.91,298.6 L114.31,299.99 L115.71,301.33 L117.1,302.62 L118.5,303.87 L119.9,305.08 L121.3,306.25 L122.7,307.38 L124.09,308.47 L125.49,309.53 L126.89,310.56 L128.29,311.56 L129.69,312.53 L131.09,313.47 L132.49,314.39 L133.88,315.28 L135.28,316.14 L136.68,316.98 L138.08,317.8 L139.48,318.59 L140.88,319.37 L142.27,320.12 L143.67,320.85 L145.07,321.57 L146.47,322.27 L147.87,322.95 L149.27,323.61 L150.66,324.26 L152.06,324.89 L153.46,325.51 L154.86,326.11 L156.26,326.7 L157.66,327.28 L159.05,327.84 L160.45,328.39 L161.85,328.93 L163.25,329.45 L164.65,329.97 L166.05,330.47 L167.44,330.97 L168.84,331.45 L170.24,331.92 L171.64,332.39 L173.04,332.84 L174.44,333.29 L175.83,333.72 L177.23,334.15 L178.63,334.57 L180.03,334.98 L181.43,335.38 L182.83,335.78 L184.22,336.17 L185.62,336.55 L187.02,336.92 L188.42,337.29 L189.82,337.65 L191.22,338 L192.61,338.35 L194.01,338.69 L195.41,339.03 L196.81,339.36 L198.21,339.68 L199.61,340 L201,340.31 L202.4,340.62 L203.8,340.92" fill="none" stroke="#009e73" stroke-width="1.6" stroke-linejoin="round" opacity="0.9"/>
<path d="M36,377.2 L48.31,377.2 L48.31,377.2 L48.59,375.3 L49,372.59 L49.49,369.36 L49.98,365.86 L50.5,361.95 L51.07,357.54 L51.65,353.04 L52.22,348.86 L52.8,344.94 L53.39,341.11 L53.96,337.62 L54.46,334.69 L54.9,332.4 L55.3,330.62 L55.62,329.28 L55.86,328.31 L55.86,328.31 L56.11,328.97 L56.4,329.86 L56.78,330.93 L57.27,332.12 L57.9,333.39 L58.71,334.69 L59.67,336.04 L60.75,337.49 L61.97,339.01 L63.36,340.6 L64.95,342.23 L66.76,343.9 L68.77,345.65 L70.94,347.5 L73.31,349.39 L75.91,351.28 L78.75,353.1 L81.87,354.81 L85.15,356.43 L88.56,358 L92.21,359.51 L96.24,360.93 L100.77,362.25 L105.92,363.46 L111.71,364.52 L118.06,365.45 L124.9,366.28 L132.18,367.03 L139.86,367.74 L147.87,368.41 L157.03,369.08 L167.55,369.71 L178.46,370.28 L188.78,370.79 L197.55,371.21 L203.8,371.53" fill="none" stroke="#56b4e9" stroke-width="1.3" stroke-linejoin="round" opacity="0.9"/>
<path d="M36,377.2 L36.11,306.35 L36.28,266.67 L36.42,264.27 L36.61,260.78 L36.85,257.06 L37.12,253.92 L37.42,251.55 L37.75,249.52 L38.11,247.74 L38.52,246.13 L38.97,244.69 L39.48,243.45 L39.99,242.39 L40.47,241.45 L40.94,240.64 L41.39,239.96 L41.81,239.43 L42.15,239.04 L42.41,238.84 L42.59,238.82 L42.73,238.87 L42.82,238.9 L42.82,238.9 L42.94,239.84 L43.09,241.02 L43.28,242.47 L43.48,244.23 L43.69,246.34 L43.89,248.82 L44.08,251.87 L44.27,255.51 L44.46,259.48 L44.67,263.56 L44.88,267.5 L45.12,271.07 L45.37,274.26 L45.63,277.29 L45.91,280.18 L46.19,282.96 L46.49,285.68 L46.8,288.35 L47.11,290.98 L47.42,293.54 L47.75,296.02 L48.09,298.44 L48.44,300.8 L48.81,303.09 L49.19,305.32 L49.57,307.48 L49.96,309.58 L50.38,311.62 L50.83,313.62 L51.33,315.56 L51.86,317.46 L52.42,319.32 L53.02,321.12 L53.65,322.87 L54.31,324.56 L55.02,326.19 L55.75,327.73 L56.52,329.18 L57.31,330.57 L58.16,331.93 L59.05,333.3 L60,334.69 L61.01,336.13 L62.1,337.6 L63.24,339.07 L64.4,340.52 L65.59,341.9 L66.76,343.19 L67.94,344.4 L69.13,345.54 L70.33,346.63 L71.55,347.66 L72.78,348.64 L74.03,349.57 L75.28,350.43 L76.52,351.21 L77.78,351.94 L79.07,352.65 L80.42,353.36 L81.87,354.1 L83.37,354.88 L84.91,355.68 L86.51,356.48 L88.2,357.27 L90,358.04 L91.93,358.78 L93.97,359.49 L96.1,360.2 L98.33,360.88 L100.7,361.53 L103.22,362.16 L105.92,362.75 L108.83,363.29 L111.93,363.8 L115.2,364.27 L118.57,364.72 L122.02,365.15 L125.49,365.58 L128.96,365.99 L132.44,366.39 L136,366.77 L139.67,367.13 L143.52,367.49 L147.59,367.85 L151.94,368.2 L156.56,368.55 L161.34,368.89 L166.21,369.22 L171.07,369.54 L175.83,369.83 L180.83,370.12 L186.21,370.4 L191.58,370.66 L196.56,370.9 L200.76,371.1 L203.8,371.25" fill="none" stroke="#e69f00" stroke-width="1.6" stroke-linejoin="round" opacity="0.9"/>
<path d="M36,235.5 L36.17,341.77 L36.17,341.77 L36.31,344.39 L36.5,348.15 L36.77,352.27 L37.12,355.94 L37.57,359.11 L38.12,362.14 L38.73,364.91 L39.36,367.28 L40.05,369.22 L40.81,370.81 L41.54,372.04 L42.15,372.95 L42.63,373.41 L43.03,373.44 L43.33,373.31 L43.55,373.23 L44.11,364.45 L44.11,364.45 L44.57,358.89 L45.23,350.87 L45.96,342.2 L46.63,334.69 L47.25,328.37 L47.88,322.42 L48.42,317.39 L48.81,313.86 L48.81,313.86 L49.08,314.89 L49.44,316.31 L49.87,317.99 L50.35,319.81 L50.84,321.64 L51.33,323.35 L51.8,325.02 L52.28,326.73 L52.77,328.46 L53.29,330.16 L53.83,331.78 L54.4,333.27 L55,334.63 L55.62,335.87 L56.27,337.04 L56.95,338.15 L57.65,339.25 L58.37,340.36 L59.12,341.47 L59.89,342.58 L60.69,343.66 L61.52,344.72 L62.39,345.75 L63.3,346.73 L64.21,347.68 L65.13,348.59 L66.08,349.46 L67.11,350.31 L68.26,351.15 L69.56,351.98 L71.04,352.79 L72.68,353.59 L74.44,354.38 L76.27,355.15 L78.14,355.91 L80.02,356.65 L81.9,357.39 L83.81,358.13 L85.76,358.85 L87.75,359.56 L89.81,360.24 L91.93,360.9 L94.08,361.54 L96.23,362.16 L98.45,362.76 L100.76,363.34 L103.24,363.91 L105.92,364.45 L108.82,364.97 L111.92,365.48 L115.18,365.96 L118.55,366.43 L122,366.87 L125.49,367.28 L129,367.66 L132.54,368.02 L136.16,368.34 L139.89,368.66 L143.78,368.96 L147.87,369.26 L152.2,369.57 L156.77,369.87 L161.5,370.17 L166.3,370.45 L171.11,370.72 L175.83,370.97 L180.82,371.2 L186.19,371.43 L191.56,371.64 L196.55,371.83 L200.76,371.98 L203.8,372.1" fill="none" stroke="#f0e442" stroke-width="1.6" stroke-linejoin="round" />
<rect x="36" y="235.5" width="167.8" height="141.7" fill="none" stroke="#707070" stroke-width="1"/>
<line x1="63.97" y1="377.2" x2="63.97" y2="373.7" stroke="#707070" stroke-width="0.8" />
<line x1="63.97" y1="235.5" x2="63.97" y2="239" stroke="#707070" stroke-width="0.8" />
<line x1="91.93" y1="377.2" x2="91.93" y2="373.7" stroke="#707070" stroke-width="0.8" />
<line x1="91.93" y1="235.5" x2="91.93" y2="239" stroke="#707070" stroke-width="0.8" />
<line x1="119.9" y1="377.2" x2="119.9" y2="373.7" stroke="#707070" stroke-width="0.8" />
<line x1="119.9" y1="235.5" x2="119.9" y2="239" stroke="#707070" stroke-width="0.8" />
<line x1="147.87" y1="377.2" x2="147.87" y2="373.7" stroke="#707070" stroke-width="0.8" />
<line x1="147.87" y1="235.5" x2="147.87" y2="239" stroke="#707070" stroke-width="0.8" />
<line x1="175.83" y1="377.2" x2="175.83" y2="373.7" stroke="#707070" stroke-width="0.8" />
<line x1="175.83" y1="235.5" x2="175.83" y2="239" stroke="#707070" stroke-width="0.8" />
<line x1="36" y1="348.86" x2="39.5" y2="348.86" stroke="#707070" stroke-width="0.8" />
<line x1="203.8" y1="348.86" x2="200.3" y2="348.86" stroke="#707070" stroke-width="0.8" />
<line x1="36" y1="320.52" x2="39.5" y2="320.52" stroke="#707070" stroke-width="0.8" />
<line x1="203.8" y1="320.52" x2="200.3" y2="320.52" stroke="#707070" stroke-width="0.8" />
<line x1="36" y1="292.18" x2="39.5" y2="292.18" stroke="#707070" stroke-width="0.8" />
<line x1="203.8" y1="292.18" x2="200.3" y2="292.18" stroke="#707070" stroke-width="0.8" />
<line x1="36" y1="263.84" x2="39.5" y2="263.84" stroke="#707070" stroke-width="0.8" />
<line x1="203.8" y1="263.84" x2="200.3" y2="263.84" stroke="#707070" stroke-width="0.8" />
<text x="27.6" y="380.2" font-family="Liberation Serif" font-size="9.9" text-anchor="end" fill="#222" stroke="#222" stroke-width="0.14" transform="translate(27.6 380.2) scale(0.92 1) translate(-27.6 -380.2)" >0</text>
<text x="27.6" y="351.86" font-family="Liberation Serif" font-size="9.9" text-anchor="end" fill="#222" stroke="#222" stroke-width="0.14" transform="translate(27.6 351.86) scale(0.92 1) translate(-27.6 -351.86)" >0.2</text>
<text x="27.6" y="323.52" font-family="Liberation Serif" font-size="9.9" text-anchor="end" fill="#222" stroke="#222" stroke-width="0.14" transform="translate(27.6 323.52) scale(0.92 1) translate(-27.6 -323.52)" >0.4</text>
<text x="27.6" y="295.18" font-family="Liberation Serif" font-size="9.9" text-anchor="end" fill="#222" stroke="#222" stroke-width="0.14" transform="translate(27.6 295.18) scale(0.92 1) translate(-27.6 -295.18)" >0.6</text>
<text x="27.6" y="266.84" font-family="Liberation Serif" font-size="9.9" text-anchor="end" fill="#222" stroke="#222" stroke-width="0.14" transform="translate(27.6 266.84) scale(0.92 1) translate(-27.6 -266.84)" >0.8</text>
<text x="27.6" y="238.5" font-family="Liberation Serif" font-size="9.9" text-anchor="end" fill="#222" stroke="#222" stroke-width="0.14" transform="translate(27.6 238.5) scale(0.92 1) translate(-27.6 -238.5)" >1</text>
<text x="36" y="389" font-family="Liberation Serif" font-size="9.9" text-anchor="middle" fill="#222" stroke="#222" stroke-width="0.14" transform="translate(36 389) scale(0.92 1) translate(-36 -389)" >0</text>
<text x="63.97" y="389" font-family="Liberation Serif" font-size="9.9" text-anchor="middle" fill="#222" stroke="#222" stroke-width="0.14" transform="translate(63.97 389) scale(0.92 1) translate(-63.97 -389)" >5</text>
<text x="91.93" y="389" font-family="Liberation Serif" font-size="9.9" text-anchor="middle" fill="#222" stroke="#222" stroke-width="0.14" transform="translate(91.93 389) scale(0.92 1) translate(-91.93 -389)" >10</text>
<text x="119.9" y="389" font-family="Liberation Serif" font-size="9.9" text-anchor="middle" fill="#222" stroke="#222" stroke-width="0.14" transform="translate(119.9 389) scale(0.92 1) translate(-119.9 -389)" >15</text>
<text x="147.87" y="389" font-family="Liberation Serif" font-size="9.9" text-anchor="middle" fill="#222" stroke="#222" stroke-width="0.14" transform="translate(147.87 389) scale(0.92 1) translate(-147.87 -389)" >20</text>
<text x="175.83" y="389" font-family="Liberation Serif" font-size="9.9" text-anchor="middle" fill="#222" stroke="#222" stroke-width="0.14" transform="translate(175.83 389) scale(0.92 1) translate(-175.83 -389)" >25</text>
<text x="203.8" y="389" font-family="Liberation Serif" font-size="9.9" text-anchor="middle" fill="#222" stroke="#222" stroke-width="0.14" transform="translate(203.8 389) scale(0.92 1) translate(-203.8 -389)" >30</text>
<text x="119.6" y="401.1" font-family="Liberation Serif" font-size="13.0" text-anchor="middle" fill="#222" stroke="#222" stroke-width="0.14" transform="translate(119.6 401.1) scale(0.96 1) translate(-119.6 -401.1)" >Time [µs]</text>
<text x="10.4" y="306.3" font-family="Liberation Serif" font-size="13.0" text-anchor="middle" fill="#222" stroke="#222" stroke-width="0.14" transform="translate(10.4 306.3) rotate(-90) scale(0.955 1) translate(-10.4 -306.3)" >Cumulative Population</text>
<text x="160.6" y="245.4" font-family="Liberation Serif" font-size="9.7" text-anchor="end" fill="#222" stroke="#222" stroke-width="0.14" >c0</text>
<line x1="166.3" y1="242.4" x2="191.8" y2="242.4" stroke="#9400d3" stroke-width="1.9" opacity="0.75"/>
<text x="160.6" y="256.25" font-family="Liberation Serif" font-size="9.7" text-anchor="end" fill="#222" stroke="#222" stroke-width="0.14" >c1</text>
<line x1="166.3" y1="253.25" x2="191.8" y2="253.25" stroke="#009e73" stroke-width="1.9" opacity="0.75"/>
<text x="160.6" y="267.1" font-family="Liberation Serif" font-size="9.7" text-anchor="end" fill="#222" stroke="#222" stroke-width="0.14" >c2</text>
<line x1="166.3" y1="264.1" x2="191.8" y2="264.1" stroke="#56b4e9" stroke-width="1.9" opacity="0.75"/>
<text x="160.6" y="277.95" font-family="Liberation Serif" font-size="9.7" text-anchor="end" fill="#222" stroke="#222" stroke-width="0.14" >c3</text>
<line x1="166.3" y1="274.95" x2="191.8" y2="274.95" stroke="#e69f00" stroke-width="1.9" opacity="0.75"/>
<text x="160.6" y="288.8" font-family="Liberation Serif" font-size="9.7" text-anchor="end" fill="#222" stroke="#222" stroke-width="0.14" >c4</text>
<line x1="166.3" y1="285.8" x2="191.8" y2="285.8" stroke="#f0e442" stroke-width="1.9" opacity="0.75"/>
<rect x="281.7" y="340.07" width="45.4" height="3.4" fill="#9400d3"/>
<line x1="280.7" y1="341.77" x2="328.1" y2="341.77" stroke="#9400d3" stroke-width="1.0" />
<rect x="275.4" y="304.64" width="9.1" height="3.4" fill="#9400d3"/>
<line x1="274.4" y1="306.34" x2="285.5" y2="306.34" stroke="#9400d3" stroke-width="1.0" />
<line x1="266.8" y1="306.34" x2="270" y2="306.34" stroke="#9400d3" stroke-width="0.9" />
<line x1="268.4" y1="304.74" x2="268.4" y2="307.94" stroke="#9400d3" stroke-width="0.9" />
<rect x="262.3" y="269.21" width="8.3" height="3.4" fill="#9400d3"/>
<line x1="261.3" y1="270.91" x2="271.6" y2="270.91" stroke="#9400d3" stroke-width="1.0" />
<rect x="269.4" y="233.78" width="6.8" height="3.4" fill="#9400d3"/>
<line x1="268.4" y1="235.48" x2="277.2" y2="235.48" stroke="#9400d3" stroke-width="1.0" />
<line x1="261.6" y1="235.48" x2="264.8" y2="235.48" stroke="#9400d3" stroke-width="0.9" />
<line x1="263.2" y1="233.88" x2="263.2" y2="237.08" stroke="#9400d3" stroke-width="0.9" />
<line x1="265" y1="235.48" x2="268.2" y2="235.48" stroke="#9400d3" stroke-width="0.9" />
<line x1="266.6" y1="233.88" x2="266.6" y2="237.08" stroke="#9400d3" stroke-width="0.9" />
<rect x="262.5" y="235.48" width="164.1" height="141.72" fill="none" stroke="#707070" stroke-width="1"/>
<rect x="323.4" y="375.8" width="103" height="3.2" fill="#7a00bb"/>
<line x1="322.4" y1="377.4" x2="427.4" y2="377.4" stroke="#7a00bb" stroke-width="1.0" />
<line x1="289.85" y1="377.2" x2="289.85" y2="373.7" stroke="#707070" stroke-width="0.8" />
<line x1="289.85" y1="235.48" x2="289.85" y2="238.98" stroke="#707070" stroke-width="0.8" />
<line x1="317.2" y1="377.2" x2="317.2" y2="373.7" stroke="#707070" stroke-width="0.8" />
<line x1="317.2" y1="235.48" x2="317.2" y2="238.98" stroke="#707070" stroke-width="0.8" />
<line x1="344.55" y1="377.2" x2="344.55" y2="373.7" stroke="#707070" stroke-width="0.8" />
<line x1="344.55" y1="235.48" x2="344.55" y2="238.98" stroke="#707070" stroke-width="0.8" />
<line x1="371.9" y1="377.2" x2="371.9" y2="373.7" stroke="#707070" stroke-width="0.8" />
<line x1="371.9" y1="235.48" x2="371.9" y2="238.98" stroke="#707070" stroke-width="0.8" />
<line x1="399.25" y1="377.2" x2="399.25" y2="373.7" stroke="#707070" stroke-width="0.8" />
<line x1="399.25" y1="235.48" x2="399.25" y2="238.98" stroke="#707070" stroke-width="0.8" />
<line x1="262.5" y1="341.77" x2="266" y2="341.77" stroke="#707070" stroke-width="0.8" />
<line x1="426.6" y1="341.77" x2="423.1" y2="341.77" stroke="#707070" stroke-width="0.8" />
<line x1="262.5" y1="306.34" x2="266" y2="306.34" stroke="#707070" stroke-width="0.8" />
<line x1="426.6" y1="306.34" x2="423.1" y2="306.34" stroke="#707070" stroke-width="0.8" />
<line x1="262.5" y1="270.91" x2="266" y2="270.91" stroke="#707070" stroke-width="0.8" />
<line x1="426.6" y1="270.91" x2="423.1" y2="270.91" stroke="#707070" stroke-width="0.8" />
<text x="254.3" y="380.1" font-family="Liberation Serif" font-size="9.9" text-anchor="end" fill="#222" stroke="#222" stroke-width="0.14" transform="translate(254.3 380.1) scale(0.92 1) translate(-254.3 -380.1)" >0</text>
<text x="254.3" y="344.67" font-family="Liberation Serif" font-size="9.9" text-anchor="end" fill="#222" stroke="#222" stroke-width="0.14" transform="translate(254.3 344.67) scale(0.92 1) translate(-254.3 -344.67)" >1</text>
<text x="254.3" y="309.24" font-family="Liberation Serif" font-size="9.9" text-anchor="end" fill="#222" stroke="#222" stroke-width="0.14" transform="translate(254.3 309.24) scale(0.92 1) translate(-254.3 -309.24)" >2</text>
<text x="254.3" y="273.81" font-family="Liberation Serif" font-size="9.9" text-anchor="end" fill="#222" stroke="#222" stroke-width="0.14" transform="translate(254.3 273.81) scale(0.92 1) translate(-254.3 -273.81)" >3</text>
<text x="254.3" y="238.38" font-family="Liberation Serif" font-size="9.9" text-anchor="end" fill="#222" stroke="#222" stroke-width="0.14" transform="translate(254.3 238.38) scale(0.92 1) translate(-254.3 -238.38)" >4</text>
<text x="262.5" y="389" font-family="Liberation Serif" font-size="9.9" text-anchor="middle" fill="#222" stroke="#222" stroke-width="0.14" transform="translate(262.5 389) scale(0.92 1) translate(-262.5 -389)" >0</text>
<text x="289.85" y="389" font-family="Liberation Serif" font-size="9.9" text-anchor="middle" fill="#222" stroke="#222" stroke-width="0.14" transform="translate(289.85 389) scale(0.92 1) translate(-289.85 -389)" >5</text>
<text x="317.2" y="389" font-family="Liberation Serif" font-size="9.9" text-anchor="middle" fill="#222" stroke="#222" stroke-width="0.14" transform="translate(317.2 389) scale(0.92 1) translate(-317.2 -389)" >10</text>
<text x="344.55" y="389" font-family="Liberation Serif" font-size="9.9" text-anchor="middle" fill="#222" stroke="#222" stroke-width="0.14" transform="translate(344.55 389) scale(0.92 1) translate(-344.55 -389)" >15</text>
<text x="371.9" y="389" font-family="Liberation Serif" font-size="9.9" text-anchor="middle" fill="#222" stroke="#222" stroke-width="0.14" transform="translate(371.9 389) scale(0.92 1) translate(-371.9 -389)" >20</text>
<text x="399.25" y="389" font-family="Liberation Serif" font-size="9.9" text-anchor="middle" fill="#222" stroke="#222" stroke-width="0.14" transform="translate(399.25 389) scale(0.92 1) translate(-399.25 -389)" >25</text>
<text x="426.6" y="389" font-family="Liberation Serif" font-size="9.9" text-anchor="middle" fill="#222" stroke="#222" stroke-width="0.14" transform="translate(426.6 389) scale(0.92 1) translate(-426.6 -389)" >30</text>
<text x="343.9" y="401.1" font-family="Liberation Serif" font-size="13.0" text-anchor="middle" fill="#222" stroke="#222" stroke-width="0.14" transform="translate(343.9 401.1) scale(0.96 1) translate(-343.9 -401.1)" >Time [µs]</text>
<text x="243.8" y="307" font-family="Liberation Serif" font-size="12.9" text-anchor="middle" fill="#222" stroke="#222" stroke-width="0.14" transform="translate(243.8 307) rotate(-90) scale(0.98 1) translate(-243.8 -307)" >Cluster</text>
<rect x="326.4" y="244.3" width="91.0" height="67.80000000000001" fill="#fff"/>
<rect x="326.4" y="294.25" width="23.7" height="1.8" fill="#9400d3"/>
<rect x="349.8" y="311.2" width="33.4" height="1.8" fill="#9400d3"/>
<rect x="383.2" y="277.3" width="25.4" height="1.8" fill="#9400d3"/>
<rect x="407.3" y="260.35" width="4.3" height="1.8" fill="#9400d3"/>
<rect x="410.2" y="243.4" width="2.6" height="1.8" fill="#9400d3"/>
<circle cx="355.6" cy="278.2" r="0.7" fill="#9400d3" opacity="0.6"/>
<circle cx="383.0" cy="295.15" r="0.7" fill="#9400d3" opacity="0.6"/>
<circle cx="407.5" cy="295.15" r="0.7" fill="#9400d3" opacity="0.6"/>
<rect x="326.4" y="244.3" width="91" height="67.8" fill="none" stroke="#bbb" stroke-width="0.8"/>
<line x1="343.4" y1="312.1" x2="343.4" y2="310.1" stroke="#bbb" stroke-width="0.7" />
<line x1="343.4" y1="244.3" x2="343.4" y2="246.3" stroke="#bbb" stroke-width="0.7" />
<text x="343.4" y="317.5" font-family="Liberation Serif" font-size="5.6" text-anchor="middle" fill="#222" stroke="#222" stroke-width="0.14" >4</text>
<line x1="364.8" y1="312.1" x2="364.8" y2="310.1" stroke="#bbb" stroke-width="0.7" />
<line x1="364.8" y1="244.3" x2="364.8" y2="246.3" stroke="#bbb" stroke-width="0.7" />
<text x="364.8" y="317.5" font-family="Liberation Serif" font-size="5.6" text-anchor="middle" fill="#222" stroke="#222" stroke-width="0.14" >8</text>
<line x1="386.2" y1="312.1" x2="386.2" y2="310.1" stroke="#bbb" stroke-width="0.7" />
<line x1="386.2" y1="244.3" x2="386.2" y2="246.3" stroke="#bbb" stroke-width="0.7" />
<text x="386.2" y="317.5" font-family="Liberation Serif" font-size="5.6" text-anchor="middle" fill="#222" stroke="#222" stroke-width="0.14" >12</text>
<line x1="407.6" y1="312.1" x2="407.6" y2="310.1" stroke="#bbb" stroke-width="0.7" />
<line x1="407.6" y1="244.3" x2="407.6" y2="246.3" stroke="#bbb" stroke-width="0.7" />
<text x="407.6" y="317.5" font-family="Liberation Serif" font-size="5.6" text-anchor="middle" fill="#222" stroke="#222" stroke-width="0.14" >16</text>
<text x="325.2" y="314.1" font-family="Liberation Serif" font-size="5.6" text-anchor="end" fill="#222" stroke="#222" stroke-width="0.14" >0</text>
<text x="325.2" y="297.15" font-family="Liberation Serif" font-size="5.6" text-anchor="end" fill="#222" stroke="#222" stroke-width="0.14" >1</text>
<line x1="326.4" y1="295.15" x2="328.4" y2="295.15" stroke="#bbb" stroke-width="0.7" />
<line x1="417.4" y1="295.15" x2="415.4" y2="295.15" stroke="#bbb" stroke-width="0.7" />
<text x="325.2" y="280.2" font-family="Liberation Serif" font-size="5.6" text-anchor="end" fill="#222" stroke="#222" stroke-width="0.14" >2</text>
<line x1="326.4" y1="278.2" x2="328.4" y2="278.2" stroke="#bbb" stroke-width="0.7" />
<line x1="417.4" y1="278.2" x2="415.4" y2="278.2" stroke="#bbb" stroke-width="0.7" />
<text x="325.2" y="263.25" font-family="Liberation Serif" font-size="5.6" text-anchor="end" fill="#222" stroke="#222" stroke-width="0.14" >3</text>
<line x1="326.4" y1="261.25" x2="328.4" y2="261.25" stroke="#bbb" stroke-width="0.7" />
<line x1="417.4" y1="261.25" x2="415.4" y2="261.25" stroke="#bbb" stroke-width="0.7" />
<text x="325.2" y="246.3" font-family="Liberation Serif" font-size="5.6" text-anchor="end" fill="#222" stroke="#222" stroke-width="0.14" >4</text>
<text x="372" y="322.6" font-family="Liberation Serif" font-size="6.4" text-anchor="middle" fill="#222" stroke="#222" stroke-width="0.14" >Time [µs]</text>
<text x="320" y="278.2" font-family="Liberation Serif" font-size="6.4" text-anchor="middle" fill="#222" stroke="#222" stroke-width="0.14" transform="rotate(-90 320 278.2)" >Cluster</text>
<path d="M477.6,341.5 L478.6,362 L479.5,370.5 L479.95,370.55 L482.32,373.71 L484.69,372.13 L487.06,374.5 L491.01,370.55 L494.96,374.5 L499.7,371.34 L503.65,374.5 L507.6,356.33 L509.97,367.39 L512.33,372.13 L518.65,372.92 L523.39,372.13 L525.76,365.02 L528.13,373.71 L531.29,372.13 L534.45,374.5 L538,364.23 L542.74,370.55 L548.27,375.29 L551.43,372.13 L555.38,373.71 L558.54,375.29 L561.7,372.92 L564.86,373.71 L567.23,370.55 L569.6,375.29 L571.97,374.5 L575.12,372.13 L577.49,373.71 L580.65,374.5 L583.81,371.34 L586.97,369.76 L590.13,370.55 L593.29,372.92 L596.45,372.13 L598.82,370.55 L600,373.71 L603.16,370.55 L606,356.33 L608.69,364.23 L611.85,365.81 L615.01,370.55 L618.17,373.71 L621.33,372.13 L623.7,373.71 L626.07,376.08 L629.23,371.34 L631.6,373.71 L634.76,374.5 L637.91,373.71 L641.07,374.5 L644.23,372.92 L646.6,372.13 L648.97,366.6 L651.34,373.71 L654.5,372.92 L657.66,373.71 L660.03,373.71 L661.61,364.23" fill="none" stroke="#9400d3" stroke-width="0.75" stroke-linejoin="round" opacity="0.8"/>
<path d="M477.6,345.6 L478.6,358 L479.5,366.4 L479.95,367.39 L482.32,368.97 L484.69,365.81 L487.06,368.97 L491.01,361.86 L494.96,368.97 L499.7,366.6 L503.65,368.97 L508.39,347.65 L510.76,362.65 L513.91,367.39 L518.65,367.39 L523.39,367.39 L526.55,365.02 L528.92,369.76 L532.87,365.81 L536.03,361.07 L538,359.49 L542.74,367.39 L548.27,374.5 L551.43,368.97 L555.38,368.18 L558.54,370.55 L561.7,369.76 L564.86,370.55 L567.23,365.81 L569.6,373.71 L571.97,372.13 L575.12,370.55 L577.49,370.55 L580.65,372.92 L583.81,368.97 L586.97,365.02 L590.13,367.39 L593.29,368.97 L596.45,370.55 L598.82,368.97 L600,370.55 L603.16,367.39 L606,355.55 L608.69,364.23 L611.85,365.81 L615.01,368.97 L618.17,370.55 L621.33,368.97 L623.7,372.13 L626.07,374.5 L629.23,370.55 L631.6,371.34 L634.76,370.55 L637.91,371.34 L641.07,370.55 L644.23,367.39 L646.6,368.97 L648.97,365.02 L651.34,368.97 L654.5,368.97 L657.66,370.55 L660.03,367.39 L661.61,359.49" fill="none" stroke="#009e73" stroke-width="0.75" stroke-linejoin="round" opacity="0.8"/>
<path d="M477.6,322 L478.6,345 L479.5,356 L479.95,357.12 L482.32,359.49 L484.69,361.07 L487.06,365.81 L491.01,327.9 L494.96,357.91 L499.7,359.49 L503.65,364.23 L508.39,321.58 L510.76,348.44 L513.91,361.07 L518.65,358.7 L521.81,356.33 L524.97,358.7 L528.92,360.28 L532.08,342.12 L536.03,337.38 L538,340.54 L542.74,357.91 L548.27,367.39 L550.64,362.65 L553.8,359.49 L556.96,362.65 L560.12,366.6 L563.28,364.23 L566.44,367.39 L568.81,372.13 L571.97,367.39 L575.12,362.65 L577.49,365.81 L580.65,368.97 L583.81,361.07 L586.97,351.6 L590.13,353.18 L593.29,357.91 L596.45,361.07 L598.82,357.91 L600,365.81 L603.16,364.23 L606,340.54 L608.69,354.76 L611.85,357.91 L615.01,351.6 L618.17,356.33 L621.33,362.65 L623.7,367.39 L626.07,364.23 L629.23,357.91 L631.6,362.65 L634.76,365.81 L637.91,367.39 L641.07,365.81 L644.23,359.49 L646.6,361.07 L648.97,359.49 L651.34,364.23 L654.5,364.23 L657.66,361.07 L660.03,362.65 L661.61,360.28" fill="none" stroke="#56b4e9" stroke-width="0.75" stroke-linejoin="round" opacity="0.8"/>
<path d="M477.6,283.7 L478.6,320 L479.5,345 L479.95,359.49 L482.32,361.07 L484.69,362.65 L487.06,367.39 L491.01,326.32 L494.96,359.49 L499.7,351.6 L503.65,368.18 L507.6,322.37 L510.76,361.07 L513.91,362.65 L518.65,360.28 L523.39,359.49 L526.55,361.07 L528.92,364.23 L532.08,335.8 L532.8,334.4 L534.8,314.6 L536.2,296.9 L537.4,290.9 L538.8,308.7 L540.8,330.5 L543.7,350.2 L548.27,369.76 L551.43,357.91 L553.01,332.64 L553.8,306.5 L555.06,338.96 L556.17,345.28 L558.54,361.07 L561.7,363.44 L564.86,362.65 L567.23,356.33 L568.81,365.81 L571.97,348.44 L575.12,351.6 L578.28,353.18 L580.65,357.91 L583.81,356.33 L586.18,342.12 L589,316 L591.71,329.48 L594.87,345.28 L598.03,354.76 L601.19,359.49 L603.16,351.6 L603.5,300 L606,281.3 L608,292 L609.5,302 L612.6,320 L615.8,345.28 L618.17,354.76 L621.33,357.91 L623.7,364.23 L626.07,361.07 L630,315.2 L631.6,357.91 L634.76,361.07 L637.91,356.33 L641.07,359.49 L644.23,353.18 L647.39,356.33 L650.55,351.6 L653.71,354.76 L656.87,359.49 L660.03,363.44 L661.61,343.7" fill="none" stroke="#e69f00" stroke-width="0.75" stroke-linejoin="round" opacity="0.8"/>
<path d="M477.6,300.5 L478.6,322 L479.5,335 L479.95,348.44 L483.9,354.76 L487.06,359.49 L491.01,324.74 L494.17,350.02 L498.12,354.76 L501.28,346.07 L503.65,361.07 L505.5,315 L507.6,300.2 L509.5,315 L510.76,342.12 L515.49,342.91 L519.44,348.44 L523.39,343.7 L526.55,347.65 L528.92,351.6 L532.8,333 L535,322 L537.4,314.6 L539.5,322 L541.5,338 L544,352 L548.27,367.39 L551.43,351.6 L552.5,310 L553.8,303.4 L555.2,312 L558.54,359.49 L563.28,345.28 L567.23,354.76 L571.97,345.28 L577.49,350.02 L582.23,359.49 L586.18,338.96 L588.5,315.5 L593.29,337.38 L598.03,345.28 L601.19,345.28 L603.16,351.6 L605,300 L607.1,293.9 L609.5,305 L612.6,320 L615.8,350.02 L618.17,351.6 L621.33,356.33 L623.7,361.07 L626.07,365.81 L629.23,332.64 L631.6,354.76 L634.76,356.33 L637.91,353.18 L641.07,356.33 L644.23,345.28 L647.39,348.44 L650.55,351.6 L653.71,337.38 L656.08,332.64 L658.45,350.02 L661.6,310" fill="none" stroke="#f0e442" stroke-width="0.75" stroke-linejoin="round" opacity="0.8"/>
<path d="M477.6,268.9 L478.6,305 L479.5,337.1 L481.3,336.3 L482.32,348.44 L484.69,357.91 L487.06,362.65 L491.01,327.11 L494.96,354.76 L498.91,357.91 L502.86,363.44 L507.6,320 L510.76,340.54 L515.49,343.7 L520.23,337.38 L523.39,340.54 L526.55,340.54 L528.92,353.18 L530.9,330.5 L532.8,332 L534.8,326.5 L537.8,330.5 L541.7,342.3 L544.5,352 L547.7,362 L553.8,321.58 L558.54,356.33 L563.28,343.7 L567.23,338.96 L569.6,359.49 L572.76,338.96 L575.91,346.86 L578.28,343.7 L580.65,351.6 L583.81,343.7 L586.18,332.64 L587.5,295 L589.3,287.6 L591.2,300 L593.29,334.22 L596.45,340.54 L598.82,340.54 L601.19,345.28 L603.16,340.54 L605,290 L607.5,272 L609.8,264.7 L611.5,280 L613,305 L615.8,346.86 L618.17,348.44 L621.33,350.02 L624.49,362.65 L626.86,357.91 L629.23,338.96 L631.6,356.33 L634.76,353.18 L637.91,350.02 L641.07,354.76 L643.44,345.28 L645.81,350.02 L648.97,354.76 L651.34,343.7 L653.71,340.54 L656.08,343.7 L658.45,348.44 L660.5,320 L661.6,303.4" fill="none" stroke="#0072b2" stroke-width="0.75" stroke-linejoin="round" opacity="0.8"/>
<rect x="477.5" y="234.8" width="200.1" height="146.4" fill="none" stroke="#a8a8a8" stroke-width="0.9"/>
<line x1="499.73" y1="381.2" x2="499.73" y2="378.7" stroke="#a8a8a8" stroke-width="0.8" />
<line x1="499.73" y1="234.8" x2="499.73" y2="237.3" stroke="#a8a8a8" stroke-width="0.8" />
<line x1="521.97" y1="381.2" x2="521.97" y2="378.7" stroke="#a8a8a8" stroke-width="0.8" />
<line x1="521.97" y1="234.8" x2="521.97" y2="237.3" stroke="#a8a8a8" stroke-width="0.8" />
<line x1="544.2" y1="381.2" x2="544.2" y2="378.7" stroke="#a8a8a8" stroke-width="0.8" />
<line x1="544.2" y1="234.8" x2="544.2" y2="237.3" stroke="#a8a8a8" stroke-width="0.8" />
<line x1="566.43" y1="381.2" x2="566.43" y2="378.7" stroke="#a8a8a8" stroke-width="0.8" />
<line x1="566.43" y1="234.8" x2="566.43" y2="237.3" stroke="#a8a8a8" stroke-width="0.8" />
<line x1="588.67" y1="381.2" x2="588.67" y2="378.7" stroke="#a8a8a8" stroke-width="0.8" />
<line x1="588.67" y1="234.8" x2="588.67" y2="237.3" stroke="#a8a8a8" stroke-width="0.8" />
<line x1="610.9" y1="381.2" x2="610.9" y2="378.7" stroke="#a8a8a8" stroke-width="0.8" />
<line x1="610.9" y1="234.8" x2="610.9" y2="237.3" stroke="#a8a8a8" stroke-width="0.8" />
<line x1="633.13" y1="381.2" x2="633.13" y2="378.7" stroke="#a8a8a8" stroke-width="0.8" />
<line x1="633.13" y1="234.8" x2="633.13" y2="237.3" stroke="#a8a8a8" stroke-width="0.8" />
<line x1="655.37" y1="381.2" x2="655.37" y2="378.7" stroke="#a8a8a8" stroke-width="0.8" />
<line x1="655.37" y1="234.8" x2="655.37" y2="237.3" stroke="#a8a8a8" stroke-width="0.8" />
<line x1="477.5" y1="360.29" x2="480" y2="360.29" stroke="#a8a8a8" stroke-width="0.8" />
<line x1="677.6" y1="360.29" x2="675.1" y2="360.29" stroke="#a8a8a8" stroke-width="0.8" />
<line x1="477.5" y1="339.37" x2="480" y2="339.37" stroke="#a8a8a8" stroke-width="0.8" />
<line x1="677.6" y1="339.37" x2="675.1" y2="339.37" stroke="#a8a8a8" stroke-width="0.8" />
<line x1="477.5" y1="318.46" x2="480" y2="318.46" stroke="#a8a8a8" stroke-width="0.8" />
<line x1="677.6" y1="318.46" x2="675.1" y2="318.46" stroke="#a8a8a8" stroke-width="0.8" />
<line x1="477.5" y1="297.54" x2="480" y2="297.54" stroke="#a8a8a8" stroke-width="0.8" />
<line x1="677.6" y1="297.54" x2="675.1" y2="297.54" stroke="#a8a8a8" stroke-width="0.8" />
<line x1="477.5" y1="276.63" x2="480" y2="276.63" stroke="#a8a8a8" stroke-width="0.8" />
<line x1="677.6" y1="276.63" x2="675.1" y2="276.63" stroke="#a8a8a8" stroke-width="0.8" />
<line x1="477.5" y1="255.71" x2="480" y2="255.71" stroke="#a8a8a8" stroke-width="0.8" />
<line x1="677.6" y1="255.71" x2="675.1" y2="255.71" stroke="#a8a8a8" stroke-width="0.8" />
<text x="473.9" y="382.8" font-family="Liberation Serif" font-size="8.5" text-anchor="end" fill="#222" stroke="#222" stroke-width="0.14" transform="translate(473.9 382.8) scale(0.88 1) translate(-473.9 -382.8)" >0</text>
<text x="473.9" y="361.89" font-family="Liberation Serif" font-size="8.5" text-anchor="end" fill="#222" stroke="#222" stroke-width="0.14" transform="translate(473.9 361.89) scale(0.88 1) translate(-473.9 -361.89)" >2</text>
<text x="473.9" y="340.97" font-family="Liberation Serif" font-size="8.5" text-anchor="end" fill="#222" stroke="#222" stroke-width="0.14" transform="translate(473.9 340.97) scale(0.88 1) translate(-473.9 -340.97)" >4</text>
<text x="473.9" y="320.06" font-family="Liberation Serif" font-size="8.5" text-anchor="end" fill="#222" stroke="#222" stroke-width="0.14" transform="translate(473.9 320.06) scale(0.88 1) translate(-473.9 -320.06)" >6</text>
<text x="473.9" y="299.14" font-family="Liberation Serif" font-size="8.5" text-anchor="end" fill="#222" stroke="#222" stroke-width="0.14" transform="translate(473.9 299.14) scale(0.88 1) translate(-473.9 -299.14)" >8</text>
<text x="473.9" y="278.23" font-family="Liberation Serif" font-size="8.5" text-anchor="end" fill="#222" stroke="#222" stroke-width="0.14" transform="translate(473.9 278.23) scale(0.88 1) translate(-473.9 -278.23)" >10</text>
<text x="473.9" y="257.31" font-family="Liberation Serif" font-size="8.5" text-anchor="end" fill="#222" stroke="#222" stroke-width="0.14" transform="translate(473.9 257.31) scale(0.88 1) translate(-473.9 -257.31)" >12</text>
<text x="473.9" y="236.4" font-family="Liberation Serif" font-size="8.5" text-anchor="end" fill="#222" stroke="#222" stroke-width="0.14" transform="translate(473.9 236.4) scale(0.88 1) translate(-473.9 -236.4)" >14</text>
<text x="477.5" y="390" font-family="Liberation Serif" font-size="8.5" text-anchor="middle" fill="#222" stroke="#222" stroke-width="0.14" transform="translate(477.5 390) scale(0.88 1) translate(-477.5 -390)" >0</text>
<text x="499.73" y="390" font-family="Liberation Serif" font-size="8.5" text-anchor="middle" fill="#222" stroke="#222" stroke-width="0.14" transform="translate(499.73 390) scale(0.88 1) translate(-499.73 -390)" >50</text>
<text x="521.97" y="390" font-family="Liberation Serif" font-size="8.5" text-anchor="middle" fill="#222" stroke="#222" stroke-width="0.14" transform="translate(521.97 390) scale(0.88 1) translate(-521.97 -390)" >100</text>
<text x="544.2" y="390" font-family="Liberation Serif" font-size="8.5" text-anchor="middle" fill="#222" stroke="#222" stroke-width="0.14" transform="translate(544.2 390) scale(0.88 1) translate(-544.2 -390)" >150</text>
<text x="566.43" y="390" font-family="Liberation Serif" font-size="8.5" text-anchor="middle" fill="#222" stroke="#222" stroke-width="0.14" transform="translate(566.43 390) scale(0.88 1) translate(-566.43 -390)" >200</text>
<text x="588.67" y="390" font-family="Liberation Serif" font-size="8.5" text-anchor="middle" fill="#222" stroke="#222" stroke-width="0.14" transform="translate(588.67 390) scale(0.88 1) translate(-588.67 -390)" >250</text>
<text x="610.9" y="390" font-family="Liberation Serif" font-size="8.5" text-anchor="middle" fill="#222" stroke="#222" stroke-width="0.14" transform="translate(610.9 390) scale(0.88 1) translate(-610.9 -390)" >300</text>
<text x="633.13" y="390" font-family="Liberation Serif" font-size="8.5" text-anchor="middle" fill="#222" stroke="#222" stroke-width="0.14" transform="translate(633.13 390) scale(0.88 1) translate(-633.13 -390)" >350</text>
<text x="655.37" y="390" font-family="Liberation Serif" font-size="8.5" text-anchor="middle" fill="#222" stroke="#222" stroke-width="0.14" transform="translate(655.37 390) scale(0.88 1) translate(-655.37 -390)" >400</text>
<text x="677.6" y="390" font-family="Liberation Serif" font-size="8.5" text-anchor="middle" fill="#222" stroke="#222" stroke-width="0.14" transform="translate(677.6 390) scale(0.88 1) translate(-677.6 -390)" >450</text>
<text x="577.5" y="399.6" font-family="Liberation Serif" font-size="11.5" text-anchor="middle" fill="#222" stroke="#222" stroke-width="0.14" >Residue number</text>
<text x="461.7" y="308.1" font-family="Liberation Serif" font-size="11.6" text-anchor="middle" fill="#222" stroke="#222" stroke-width="0.14" transform="rotate(-90 461.7 308.1)" >RMSF [Å]</text>
<text x="507.7" y="241.8" font-family="Liberation Serif" font-size="8.2" text-anchor="end" fill="#222" stroke="#222" stroke-width="0.14" >1 ns</text>
<line x1="512.5" y1="240.9" x2="532.9" y2="240.9" stroke="#9400d3" stroke-width="1.1" opacity="0.65"/>
<text x="507.7" y="250.92" font-family="Liberation Serif" font-size="8.2" text-anchor="end" fill="#222" stroke="#222" stroke-width="0.14" >10 ns</text>
<line x1="512.5" y1="250.02" x2="532.9" y2="250.02" stroke="#009e73" stroke-width="1.1" opacity="0.65"/>
<text x="507.7" y="260.04" font-family="Liberation Serif" font-size="8.2" text-anchor="end" fill="#222" stroke="#222" stroke-width="0.14" >100 ns</text>
<line x1="512.5" y1="259.14" x2="532.9" y2="259.14" stroke="#56b4e9" stroke-width="1.1" opacity="0.65"/>
<text x="507.7" y="269.16" font-family="Liberation Serif" font-size="8.2" text-anchor="end" fill="#222" stroke="#222" stroke-width="0.14" >1 µs</text>
<line x1="512.5" y1="268.26" x2="532.9" y2="268.26" stroke="#e69f00" stroke-width="1.1" opacity="0.65"/>
<text x="507.7" y="278.28" font-family="Liberation Serif" font-size="8.2" text-anchor="end" fill="#222" stroke="#222" stroke-width="0.14" >10 µs</text>
<line x1="512.5" y1="277.38" x2="532.9" y2="277.38" stroke="#f0e442" stroke-width="1.1" opacity="0.65"/>
<text x="507.7" y="287.4" font-family="Liberation Serif" font-size="8.2" text-anchor="end" fill="#222" stroke="#222" stroke-width="0.14" >30 µs</text>
<line x1="512.5" y1="286.5" x2="532.9" y2="286.5" stroke="#0072b2" stroke-width="1.1" opacity="0.65"/>
<text x="25.6" y="22" font-family="Liberation Sans" font-size="16.5" text-anchor="start" fill="#111" stroke="#111" stroke-width="0.11200000000000002" >a</text>
<text x="326" y="20.9" font-family="Liberation Sans" font-size="16.5" text-anchor="start" fill="#111" stroke="#111" stroke-width="0.11200000000000002" >b</text>
<text x="6.4" y="223.1" font-family="Liberation Sans" font-size="16.5" text-anchor="start" fill="#111" stroke="#111" stroke-width="0.11200000000000002" >c</text>
<text x="448" y="223" font-family="Liberation Sans" font-size="16.5" text-anchor="start" fill="#111" stroke="#111" stroke-width="0.11200000000000002" >d</text>
<line x1="309.9" y1="0.8" x2="309.9" y2="202.8" stroke="#000" stroke-width="2.4" stroke-linecap="round"/>
<line x1="3.5" y1="203.5" x2="681.2" y2="203.5" stroke="#000" stroke-width="2.6" stroke-linecap="round"/>
<line x1="437.3" y1="203.5" x2="437.3" y2="397.5" stroke="#000" stroke-width="2.0" stroke-linecap="round"/></svg>
</body></html>
